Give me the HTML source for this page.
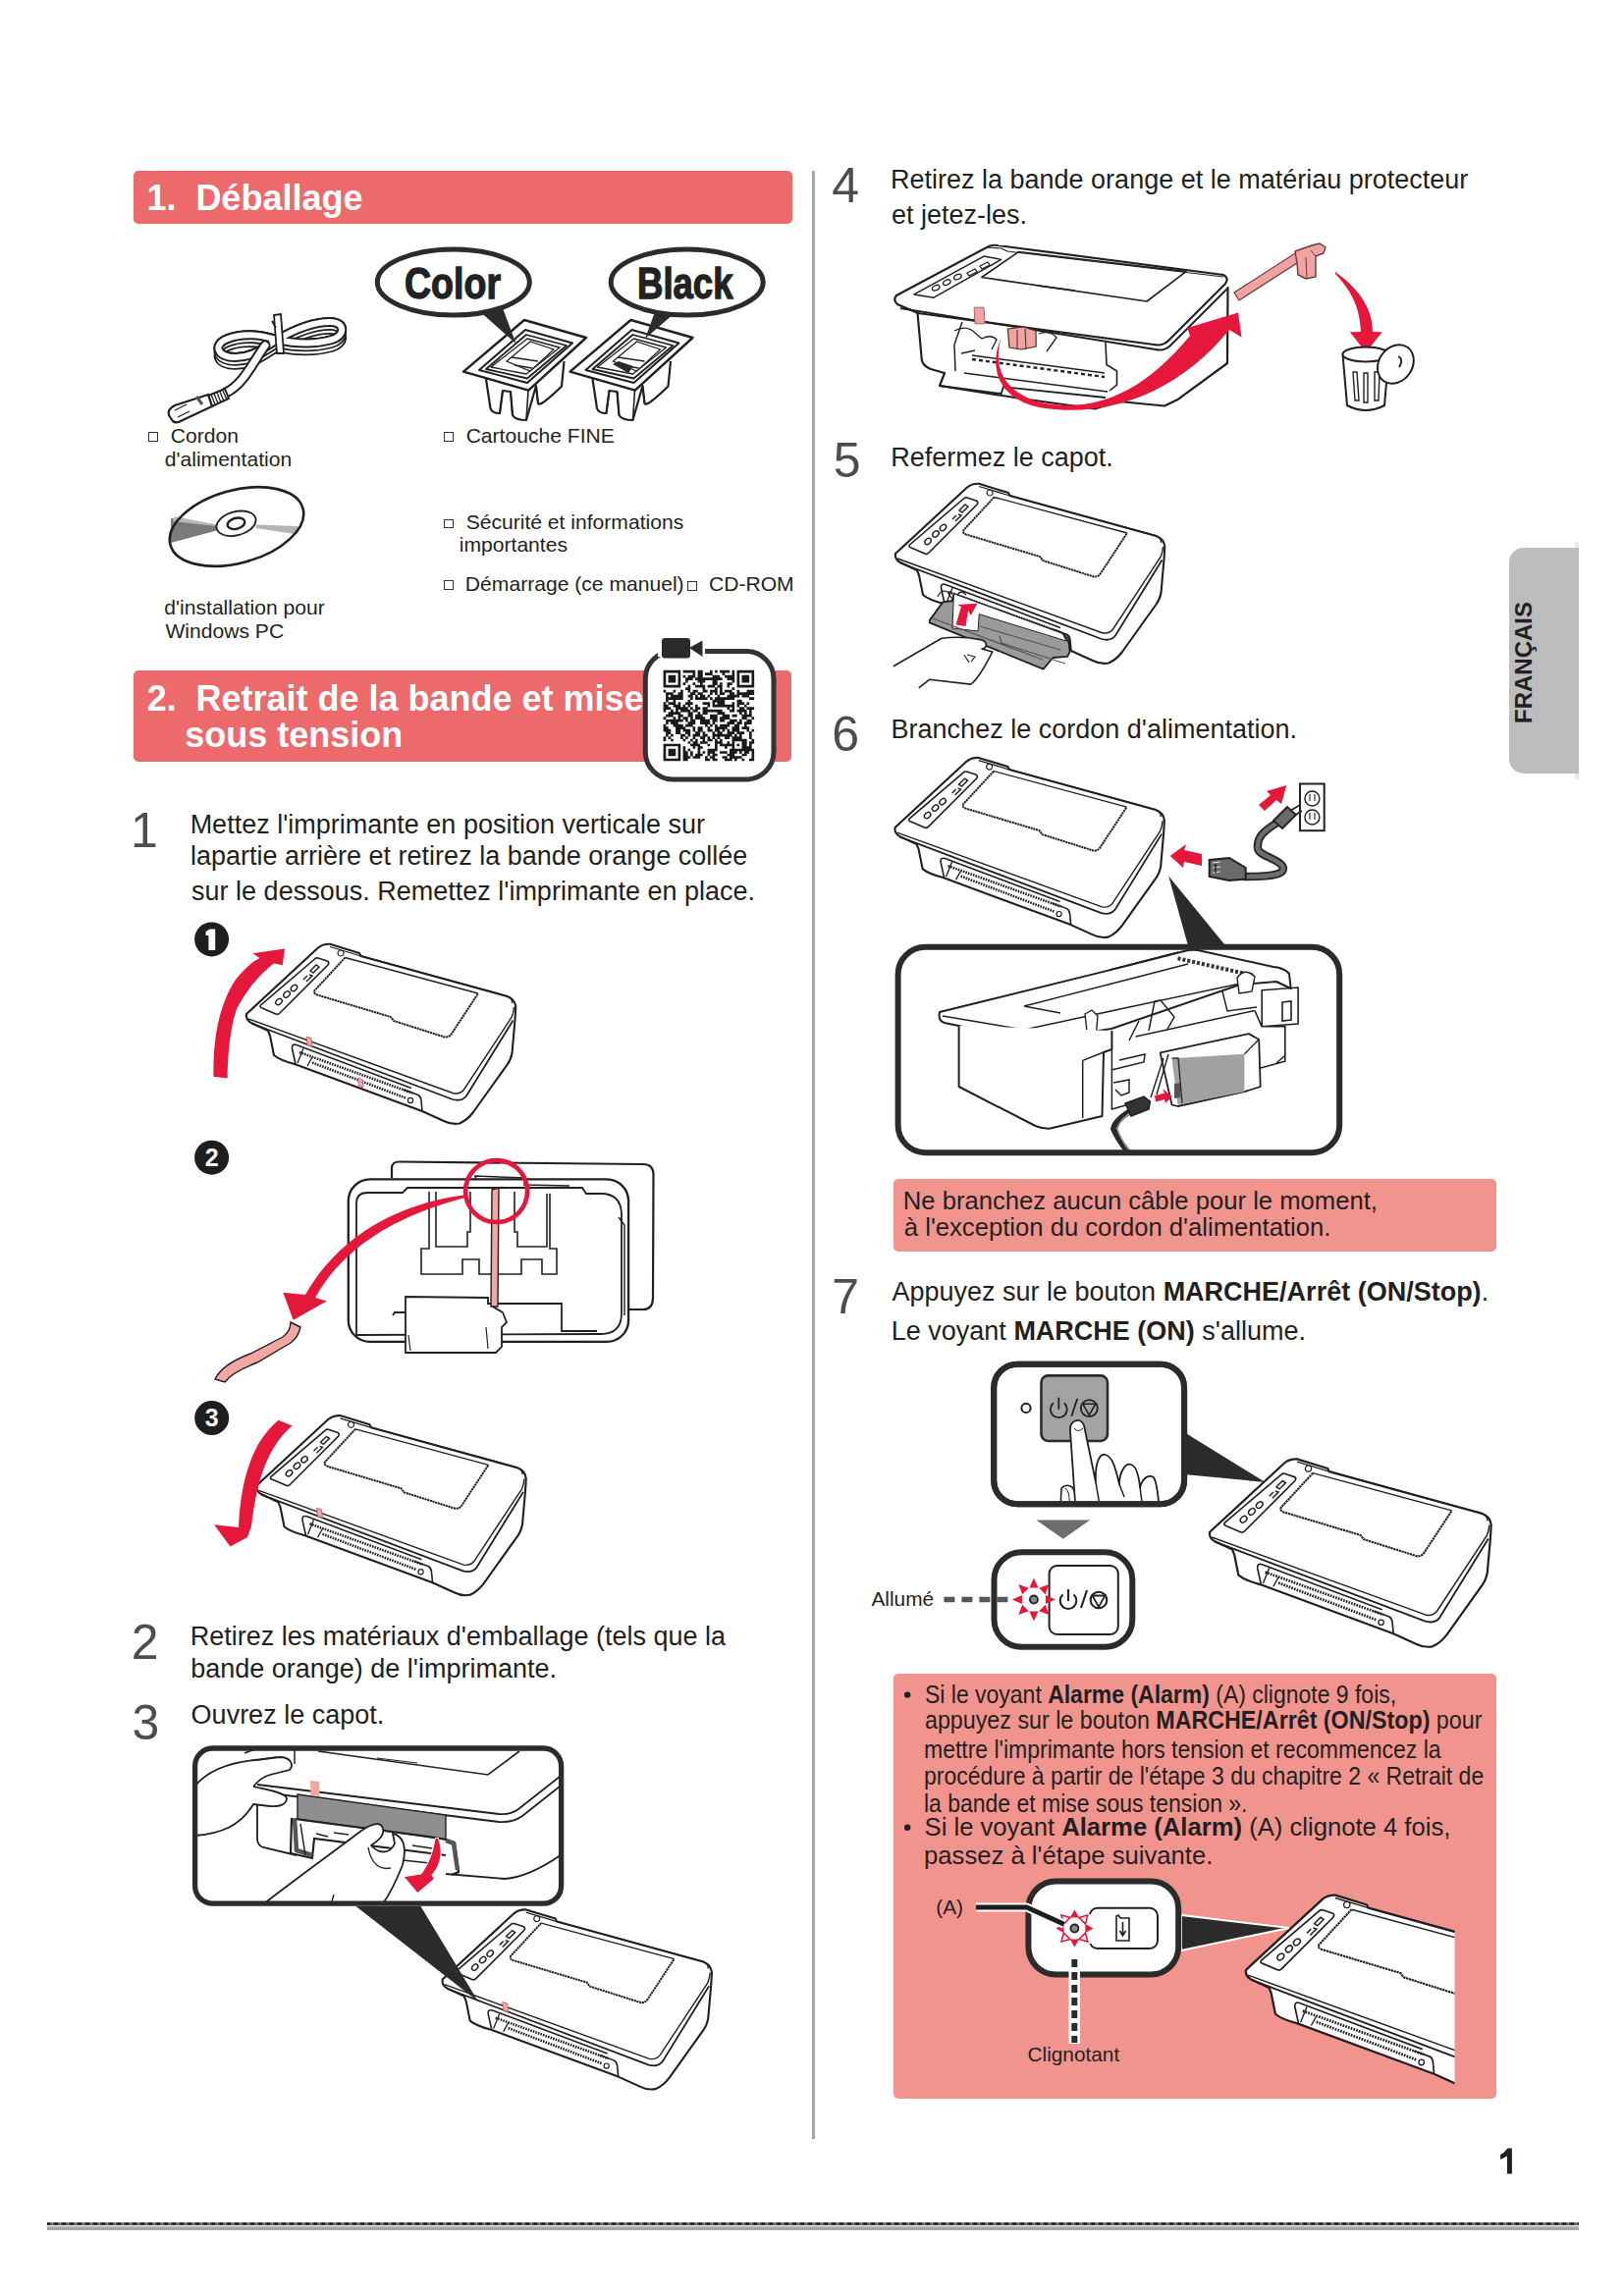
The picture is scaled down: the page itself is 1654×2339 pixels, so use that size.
<!DOCTYPE html>
<html><head><meta charset="utf-8"><style>
html,body{margin:0;padding:0;background:#fff;}
body{width:1654px;height:2339px;position:relative;overflow:hidden;font-family:"Liberation Sans",sans-serif;color:#231f20;}
.t{position:absolute;white-space:pre;}
svg{position:absolute;left:0;top:0;}
</style></head><body>
<div style="position:absolute;left:135.5px;top:174px;width:671.5px;height:54px;background:#ec696c;border-radius:5px;"></div>
<div style="position:absolute;left:135.5px;top:683px;width:670.5px;height:92.5px;background:#ec696c;border-radius:5px;"></div>
<div style="position:absolute;left:827px;top:174px;width:3px;height:2005px;background:#a6a6a6;border-radius:0px;"></div>
<div style="position:absolute;left:910px;top:1201px;width:613.5px;height:73.5px;background:#f2948e;border-radius:5px;"></div>
<div style="position:absolute;left:910px;top:1704.5px;width:613.5px;height:433.5px;background:#f2948e;border-radius:5px;"></div>
<div style="position:absolute;left:1604px;top:552px;width:4px;height:242px;background:#e9e9ea;border-radius:0px;"></div>
<div style="position:absolute;left:1537px;top:558px;width:70.6px;height:230px;background:#bdbcbe;border-radius:15px 0 0 15px;"></div>
<div style="position:absolute;left:48px;top:2264px;width:1560px;height:8px;background:#a9a9a9;border-radius:0px;"></div>
<svg width="1654" height="2339" viewBox="0 0 1654 2339">
<circle cx="924.2" cy="1726.6" r="3.2" fill="#231f20"/>
<circle cx="924.2" cy="1861.8" r="3.2" fill="#231f20"/>
<path d="M1535.1,2188.5 L1539.9,2188.5 L1539.9,2214.6 L1535,2214.6 L1535,2196.5 L1528.2,2199.9 L1528,2195.2 Q1532,2193 1535.1,2189 Z" fill="#231f20"/>
<circle cx="215.6" cy="956.9" r="17.5" fill="#1e1e1e"/>
<path d="M209.6,948.9 L213.6,946.4 L219.2,946.4 L219.2,967.9 L212.4,967.9 L212.4,952.9 L209.6,952.9 Z" fill="#fff"/>
<path d="M251,1033 L324,965.5 Q329,961.5 336,961.8 L366,971 L367.5,974 L516.5,1015 Q524.5,1018 525.3,1026 L524.5,1039 L521.5,1073 Q520,1080 517,1084 L482,1133 Q476,1141 468,1144.5 Q460,1146 452,1142 L430,1132 L300,1084 Q285,1080 279,1075 L275,1055 L273,1050 L256,1042 Q250,1039 251,1033 Z" fill="#fff" stroke="#231f20" stroke-width="2.1" stroke-linejoin="round"/><path d="M253,1038 L461,1113.5 Q468,1115.5 472.5,1110 L521,1036.5 Q523,1032 523.5,1026" fill="none" stroke="#231f20" stroke-width="1.4"/><path d="M256,1042.5 L461,1120 Q470,1122.5 475,1116.5 L522.5,1039.5" fill="none" stroke="#231f20" stroke-width="1.8"/><path d="M336,964.5 L366,973.5 L516,1014.5 Q522,1017 521.5,1022" fill="none" stroke="#231f20" stroke-width="1.3"/><path d="M351.5,975.5 L487,1012" fill="none" stroke="#231f20" stroke-width="1.3"/><path d="M267,1027 L281,1033 Q283,1034 285,1032 L334,983 Q336,980 333,979 L324,976 Q322,975.5 320.5,977 L265.5,1024 Q264,1026 267,1027 Z" fill="none" stroke="#231f20" stroke-width="1.6"/><ellipse cx="284" cy="1020.5" rx="3.6" ry="2.6" transform="rotate(-42 284 1020.5)" fill="none" stroke="#231f20" stroke-width="1.4"/><ellipse cx="292" cy="1013" rx="3.6" ry="2.6" transform="rotate(-42 292 1013)" fill="none" stroke="#231f20" stroke-width="1.4"/><ellipse cx="299.5" cy="1006.5" rx="3.6" ry="2.6" transform="rotate(-42 299.5 1006.5)" fill="none" stroke="#231f20" stroke-width="1.4"/><path d="M309,998 l4,-4 M312,1000 l6,-6 l-3,-1 M316,989 l6,-6 l3,2 l-6,6 z" fill="none" stroke="#231f20" stroke-width="1.4"/><path d="M351.5,975.5 L320.5,1009 Q319,1012 323,1013.5 L398,1036 L401,1040 L453,1056.5 Q457.5,1057 460,1053 L487,1012" fill="none" stroke="#231f20" stroke-width="2" stroke-dasharray="2.2 0.6"/><path d="M301,1084 L297.5,1068 Q297,1063 302,1064.5 L419,1108.5" fill="none" stroke="#231f20" stroke-width="1.6"/><path d="M305,1072 L420,1113.5" fill="none" stroke="#231f20" stroke-width="2.6" stroke-dasharray="1.6 1.1"/><path d="M318,1082.5 L413,1118.5" fill="none" stroke="#231f20" stroke-width="2.6" stroke-dasharray="1.6 1.1"/><path d="M411,1110 L426,1115.5 Q428.5,1117 429,1121 L430,1132" fill="none" stroke="#231f20" stroke-width="1.6"/><path d="M303,1083 L309,1068 M313,1086 L318,1077" fill="none" stroke="#231f20" stroke-width="1.3"/><circle cx="418" cy="1121" r="2.6" fill="none" stroke="#231f20" stroke-width="1.2"/><path d="M347,968 a3,3 0 1,0 0.1,0" fill="none" stroke="#231f20" stroke-width="1.2"/><path d="M312,1056 L317,1057.5 L318,1066 L313,1064.5 Z" fill="#f3a5a9" stroke="#b56" stroke-width="0.8"/><path d="M364.5,1098 L369,1099.5 L370,1108 L365.5,1106.5 Z" fill="#f3a5a9" stroke="#b56" stroke-width="0.8"/>
<path d="M217.4,1096.8 C217,1060 222,1025 240,998 C248,988 256,980 264.5,976 L257.3,971.2 L290,966.4 L287.7,983.2 L278.9,981.6 C265,992 250,1010 241,1028 C235,1045 232,1070 231.6,1098.5 Z" fill="#e5173a"/>
<circle cx="215.6" cy="1179.2" r="17.5" fill="#1e1e1e"/>
<text x="215.6" y="1187.7" text-anchor="middle" font-family="Liberation Sans" font-weight="bold" font-size="25" fill="#fff">2</text>
<circle cx="215.7" cy="1444.5" r="17.5" fill="#1e1e1e"/>
<text x="215.7" y="1453.0" text-anchor="middle" font-family="Liberation Sans" font-weight="bold" font-size="25" fill="#fff">3</text>
<g transform="translate(10.5,480.3)"><path d="M251,1033 L324,965.5 Q329,961.5 336,961.8 L366,971 L367.5,974 L516.5,1015 Q524.5,1018 525.3,1026 L524.5,1039 L521.5,1073 Q520,1080 517,1084 L482,1133 Q476,1141 468,1144.5 Q460,1146 452,1142 L430,1132 L300,1084 Q285,1080 279,1075 L275,1055 L273,1050 L256,1042 Q250,1039 251,1033 Z" fill="#fff" stroke="#231f20" stroke-width="2.1" stroke-linejoin="round"/><path d="M253,1038 L461,1113.5 Q468,1115.5 472.5,1110 L521,1036.5 Q523,1032 523.5,1026" fill="none" stroke="#231f20" stroke-width="1.4"/><path d="M256,1042.5 L461,1120 Q470,1122.5 475,1116.5 L522.5,1039.5" fill="none" stroke="#231f20" stroke-width="1.8"/><path d="M336,964.5 L366,973.5 L516,1014.5 Q522,1017 521.5,1022" fill="none" stroke="#231f20" stroke-width="1.3"/><path d="M351.5,975.5 L487,1012" fill="none" stroke="#231f20" stroke-width="1.3"/><path d="M267,1027 L281,1033 Q283,1034 285,1032 L334,983 Q336,980 333,979 L324,976 Q322,975.5 320.5,977 L265.5,1024 Q264,1026 267,1027 Z" fill="none" stroke="#231f20" stroke-width="1.6"/><ellipse cx="284" cy="1020.5" rx="3.6" ry="2.6" transform="rotate(-42 284 1020.5)" fill="none" stroke="#231f20" stroke-width="1.4"/><ellipse cx="292" cy="1013" rx="3.6" ry="2.6" transform="rotate(-42 292 1013)" fill="none" stroke="#231f20" stroke-width="1.4"/><ellipse cx="299.5" cy="1006.5" rx="3.6" ry="2.6" transform="rotate(-42 299.5 1006.5)" fill="none" stroke="#231f20" stroke-width="1.4"/><path d="M309,998 l4,-4 M312,1000 l6,-6 l-3,-1 M316,989 l6,-6 l3,2 l-6,6 z" fill="none" stroke="#231f20" stroke-width="1.4"/><path d="M351.5,975.5 L320.5,1009 Q319,1012 323,1013.5 L398,1036 L401,1040 L453,1056.5 Q457.5,1057 460,1053 L487,1012" fill="none" stroke="#231f20" stroke-width="2" stroke-dasharray="2.2 0.6"/><path d="M301,1084 L297.5,1068 Q297,1063 302,1064.5 L419,1108.5" fill="none" stroke="#231f20" stroke-width="1.6"/><path d="M305,1072 L420,1113.5" fill="none" stroke="#231f20" stroke-width="2.6" stroke-dasharray="1.6 1.1"/><path d="M318,1082.5 L413,1118.5" fill="none" stroke="#231f20" stroke-width="2.6" stroke-dasharray="1.6 1.1"/><path d="M411,1110 L426,1115.5 Q428.5,1117 429,1121 L430,1132" fill="none" stroke="#231f20" stroke-width="1.6"/><path d="M303,1083 L309,1068 M313,1086 L318,1077" fill="none" stroke="#231f20" stroke-width="1.3"/><circle cx="418" cy="1121" r="2.6" fill="none" stroke="#231f20" stroke-width="1.2"/><path d="M347,968 a3,3 0 1,0 0.1,0" fill="none" stroke="#231f20" stroke-width="1.2"/><path d="M312,1056 L317,1057.5 L318,1066 L313,1064.5 Z" fill="#f3a5a9" stroke="#b56" stroke-width="0.8"/></g>
<path d="M283.6,1446.8 L297.6,1452.6 C277,1470 262,1500 256,1555 L252,1566.1 L234.5,1575.5 L218.1,1553.3 L243,1556 C245,1505 258,1468 283.6,1446.8 Z" fill="#e5173a"/>
<path d="M399,1200 L399,1190 Q399,1183.5 407,1183.5 L655,1186 Q665,1186 665.5,1196 L665,1322 Q665,1334 655,1334 L640,1334" fill="#fff" stroke="#231f20" stroke-width="2.2"/>
<rect x="354.8" y="1201.4" width="285.3" height="165.5" rx="22" fill="#fff" stroke="#231f20" stroke-width="2.3"/>
<path d="M363,1360 L363,1226 Q363,1215 374,1215 L410,1215 L415,1210 L593,1210 L597,1216 L612,1216 Q632,1216 633,1236 L633,1338 Q633,1359 612,1359 Z" fill="none" stroke="#231f20" stroke-width="1.8"/>
<path d="M630,1240 L636,1248 L636,1340" fill="none" stroke="#231f20" stroke-width="1.4"/>
<path d="M437,1214 L437,1272 L429,1272 L429,1298 L471,1298 L471,1283 L488,1283 L488,1298 L531,1298 L531,1283 L552,1283 L552,1298 L567,1298 L567,1272 L560,1272 L560,1216" fill="none" stroke="#231f20" stroke-width="1.6"/>
<path d="M444,1214 L444,1270 L476,1270 L476,1255 L479,1255 L479,1214 M524,1214 L524,1255 L527,1255 L527,1270 L557,1270 L557,1216" fill="none" stroke="#231f20" stroke-width="1.6"/>
<path d="M485,1202 L484,1198 L535,1200 L534,1207 L580,1208" fill="none" stroke="#231f20" stroke-width="1.6"/>
<path d="M413,1336 L413,1321 L497,1322 L497,1328 L572,1328 L572,1356 L608,1356 M400,1340 L402,1337 L413,1337 L413,1378 L505,1378 L511,1372 L511,1352 L516,1347 L512,1337 L500,1330" fill="#fff" stroke="#231f20" stroke-width="1.8"/>
<path d="M416,1360 L418,1376 M495,1352 L497,1374" fill="none" stroke="#231f20" stroke-width="1.2"/>
<path d="M501,1212 L508,1210 L507,1331 L500,1331 Z" fill="#f2a7a2" stroke="#231f20" stroke-width="1.4"/>
<path d="M500,1212 L508,1210 L514,1208 L507,1211 Z" fill="#333"/>
<circle cx="505.6" cy="1213.5" r="31.5" fill="none" stroke="#e5173a" stroke-width="4.6"/>
<path d="M473,1217.5 C420,1224 350,1250 311,1319 L288.3,1316.7 L298.7,1344.7 L332.7,1325.5 L321,1322 C352,1266 412,1236 474,1220 Z" fill="#e5173a"/>
<path d="M296,1347 L306,1352 Q304,1362 296,1368 L262,1388 Q236,1398 229,1408 L219,1405 Q226,1390 255,1379 L288,1362 Q296,1356 296,1347 Z" fill="#f2a7a2" stroke="#231f20" stroke-width="1.4"/>
<defs><clipPath id="c3"><rect x="199" y="1781" width="372" height="158" rx="17"/></clipPath></defs>
<g clip-path="url(#c3)">
<rect x="190" y="1770" width="400" height="180" fill="#fff"/>
<path d="M324,1784 L497,1808 L529,1784" fill="none" stroke="#231f20" stroke-width="1.6"/>
<path d="M384,1791 L425,1796" fill="none" stroke="#231f20" stroke-width="1.2"/>
<path d="M262,1818 L508,1848 Q520,1849 528,1843 L580,1802" fill="none" stroke="#231f20" stroke-width="1.8"/>
<path d="M268,1826 L508,1856 Q522,1857 532,1850 L580,1812" fill="none" stroke="#231f20" stroke-width="1.8"/>
<path d="M262,1826 L262,1873 Q262,1880 268,1882 L302,1890" fill="none" stroke="#231f20" stroke-width="1.8"/>
<path d="M303,1828 L454,1849 L454,1874 L303,1853 Z" fill="#8f8f91" stroke="#231f20" stroke-width="1.4"/>
<path d="M297,1852 L296,1888 L318,1893 L320,1873 L454,1890 M300,1853 L330,1857 L430,1870 L455,1874 L463,1877 L467,1907 L460,1910" fill="none" stroke="#231f20" stroke-width="2.2"/>
<path d="M300,1852 L302,1885 L318,1890 M454,1875 L462,1878 L466,1905" fill="none" stroke="#555" stroke-width="4.5"/>
<path d="M306,1858 L311,1890 M322,1868 L334,1871 M340,1867 L355,1869 M420,1880 L440,1883 M410,1895 L438,1898" fill="none" stroke="#231f20" stroke-width="1.5"/>
<path d="M454,1909 L514,1914 Q540,1912 575,1887" fill="none" stroke="#231f20" stroke-width="1.8"/>
<path d="M316,1814 L325,1815 L325.5,1830 L316.5,1829 Z" fill="#f2a6a0"/>
<path d="M199,1819 C215,1800 240,1795 260,1793 L285,1790 C295,1790 300,1797 295,1803 L275,1808 C268,1810 262,1815 258,1820" fill="#fff" stroke="#231f20" stroke-width="1.8"/>
<path d="M258,1820 C265,1822 290,1825 292,1832 C292,1838 285,1841 275,1840 L258,1838 C245,1860 225,1868 199,1870" fill="#fff" stroke="#231f20" stroke-width="1.8"/>
<path d="M249,1786 L265,1780 L300,1782 L300,1797 M262,1793 L282,1790" fill="none" stroke="#231f20" stroke-width="1.5"/>
<path d="M268,1940 C300,1915 335,1890 368,1865 C378,1858 388,1855 390,1863 C392,1870 385,1875 378,1880 C385,1888 397,1890 402,1878 L400,1868 C410,1870 415,1880 410,1900 C402,1920 395,1935 385,1945" fill="#fff" stroke="#231f20" stroke-width="1.8"/>
<path d="M375,1882 C378,1900 388,1905 398,1903 M340,1930 L335,1948" fill="none" stroke="#231f20" stroke-width="1.4"/>
<path d="M446,1872 C452,1885 449,1900 440,1910 L442.2,1914.1 L425.3,1928.5 L411,1911.7 L429,1909 C437,1898 441,1886 443,1873 Z" fill="#e5173a" stroke="#fff" stroke-width="1"/>
</g>
<rect x="198.6" y="1781" width="373" height="158.2" rx="18" fill="none" stroke="#2b2b2b" stroke-width="5.3"/>
<g transform="translate(199.7,983.6)"><path d="M251,1033 L324,965.5 Q329,961.5 336,961.8 L366,971 L367.5,974 L516.5,1015 Q524.5,1018 525.3,1026 L524.5,1039 L521.5,1073 Q520,1080 517,1084 L482,1133 Q476,1141 468,1144.5 Q460,1146 452,1142 L430,1132 L300,1084 Q285,1080 279,1075 L275,1055 L273,1050 L256,1042 Q250,1039 251,1033 Z" fill="#fff" stroke="#231f20" stroke-width="2.1" stroke-linejoin="round"/><path d="M253,1038 L461,1113.5 Q468,1115.5 472.5,1110 L521,1036.5 Q523,1032 523.5,1026" fill="none" stroke="#231f20" stroke-width="1.4"/><path d="M256,1042.5 L461,1120 Q470,1122.5 475,1116.5 L522.5,1039.5" fill="none" stroke="#231f20" stroke-width="1.8"/><path d="M336,964.5 L366,973.5 L516,1014.5 Q522,1017 521.5,1022" fill="none" stroke="#231f20" stroke-width="1.3"/><path d="M351.5,975.5 L487,1012" fill="none" stroke="#231f20" stroke-width="1.3"/><path d="M267,1027 L281,1033 Q283,1034 285,1032 L334,983 Q336,980 333,979 L324,976 Q322,975.5 320.5,977 L265.5,1024 Q264,1026 267,1027 Z" fill="none" stroke="#231f20" stroke-width="1.6"/><ellipse cx="284" cy="1020.5" rx="3.6" ry="2.6" transform="rotate(-42 284 1020.5)" fill="none" stroke="#231f20" stroke-width="1.4"/><ellipse cx="292" cy="1013" rx="3.6" ry="2.6" transform="rotate(-42 292 1013)" fill="none" stroke="#231f20" stroke-width="1.4"/><ellipse cx="299.5" cy="1006.5" rx="3.6" ry="2.6" transform="rotate(-42 299.5 1006.5)" fill="none" stroke="#231f20" stroke-width="1.4"/><path d="M309,998 l4,-4 M312,1000 l6,-6 l-3,-1 M316,989 l6,-6 l3,2 l-6,6 z" fill="none" stroke="#231f20" stroke-width="1.4"/><path d="M351.5,975.5 L320.5,1009 Q319,1012 323,1013.5 L398,1036 L401,1040 L453,1056.5 Q457.5,1057 460,1053 L487,1012" fill="none" stroke="#231f20" stroke-width="2" stroke-dasharray="2.2 0.6"/><path d="M301,1084 L297.5,1068 Q297,1063 302,1064.5 L419,1108.5" fill="none" stroke="#231f20" stroke-width="1.6"/><path d="M305,1072 L420,1113.5" fill="none" stroke="#231f20" stroke-width="2.6" stroke-dasharray="1.6 1.1"/><path d="M318,1082.5 L413,1118.5" fill="none" stroke="#231f20" stroke-width="2.6" stroke-dasharray="1.6 1.1"/><path d="M411,1110 L426,1115.5 Q428.5,1117 429,1121 L430,1132" fill="none" stroke="#231f20" stroke-width="1.6"/><path d="M303,1083 L309,1068 M313,1086 L318,1077" fill="none" stroke="#231f20" stroke-width="1.3"/><circle cx="418" cy="1121" r="2.6" fill="none" stroke="#231f20" stroke-width="1.2"/><path d="M347,968 a3,3 0 1,0 0.1,0" fill="none" stroke="#231f20" stroke-width="1.2"/><path d="M312,1056 L317,1057.5 L318,1066 L313,1064.5 Z" fill="#f3a5a9" stroke="#b56" stroke-width="0.8"/></g>
<path d="M362.5,1942 L428.5,1942 L487,2039 Z" fill="#2b2b2b"/>
<path d="M934.4,318 L938.8,366.5 Q940,373 948,376 L962,380 L957,393 L1040,406 L1115,416.5 L1140,409 L1186,413.5 L1200,406.7 L1250,370 L1250.5,292" fill="#fff" stroke="#231f20" stroke-width="2.2" stroke-linejoin="round"/>
<path d="M957,393 L1019.7,401 L1021.9,394.2 L1126,405" fill="none" stroke="#231f20" stroke-width="1.8"/>
<path d="M1126,349 L1127,371.5 L1137.5,378 L1137.5,392 L1130,398" fill="none" stroke="#231f20" stroke-width="1.6"/>
<path d="M913,301 Q909,306 914,310 L935,319 L1175,351 Q1184,353 1190,347 L1248,289 Q1252,283 1246,280 L1016,250 Q1010,249 1005,252 Z" fill="#fff" stroke="#231f20" stroke-width="2.2" stroke-linejoin="round"/>
<path d="M917,314 L1177,356 Q1186,358 1192,352 L1250,294" fill="none" stroke="#231f20" stroke-width="1.8"/>
<path d="M1005,252 L1020,253 L1026,256 L1246,282" fill="none" stroke="#231f20" stroke-width="1.2"/>
<path d="M931,299.9 L951,303.2 L1019.7,264.4 L1002,261.1 Z" fill="none" stroke="#231f20" stroke-width="1.5" stroke-linejoin="round"/>
<ellipse cx="953.2" cy="293.2" rx="4" ry="2.4" transform="rotate(-25 953.2 293.2)" fill="none" stroke="#231f20" stroke-width="1.3"/>
<ellipse cx="964.3" cy="287.7" rx="4" ry="2.4" transform="rotate(-25 964.3 287.7)" fill="none" stroke="#231f20" stroke-width="1.3"/>
<ellipse cx="975.4" cy="282.1" rx="4" ry="2.4" transform="rotate(-25 975.4 282.1)" fill="none" stroke="#231f20" stroke-width="1.3"/>
<path d="M985,278 l8,-4 l2,3 l-8,4 z M998,271 l8,-4 l2,3 l-8,4 z" fill="none" stroke="#231f20" stroke-width="1.3"/>
<path d="M999.8,282.5 L1037.4,256.6 L1208,276.6 L1168,307 Z" fill="none" stroke="#231f20" stroke-width="1.6" stroke-linejoin="round"/>
<path d="M1057,291 L1095,296" stroke="#231f20" stroke-width="1.3"/>
<path d="M980,328 L972,351 L973,378 M979,360 L993,357 M990,362 L1125,380 M982,380 L1128,399" fill="none" stroke="#231f20" stroke-width="1.5"/>
<path d="M990,366 L1125,384" fill="none" stroke="#231f20" stroke-width="2.4" stroke-dasharray="4 3"/>
<path d="M972,337 Q985,330 994,340 L1000,345 Q1010,340 1015,346 L1010,356 M1058,340 Q1070,336 1076,344 L1066,358" fill="none" stroke="#231f20" stroke-width="1.3"/>
<path d="M1026.4,335 L1042,333 L1055,337 L1055.2,353 L1040,356 L1028,354 Z" fill="#f0a3a0" stroke="#4a2a2a" stroke-width="1.2"/>
<path d="M1036,336 L1036,355 M1044,335 L1045,356" stroke="#4a2a2a" stroke-width="1"/>
<path d="M992,313.2 L1002,313.2 L1003.1,329.8 L993,329.8 Z" fill="#f0a3a0" stroke="#8a4a4a" stroke-width="0.8"/>
<path d="M1019.7,344 C1012,370 1018,398 1060,410 C1110,420 1160,405 1212,342 L1209.3,334 L1261,318.4 L1264.5,343.4 L1252,336 C1200,400 1130,425 1065,416 C1020,410 1005,378 1019.7,344 Z" fill="#e5173a"/>
<path d="M1257,298 L1319,258 L1324,266 L1262,306 Z" fill="#f0a3a0" stroke="#6a3a3a" stroke-width="1.2"/>
<path d="M1319,256 L1336,250 L1344,248 L1350,252 L1348,258 L1340,261 L1340,282 L1330,284 L1322,280 L1321,268 Z" fill="#f0a3a0" stroke="#6a3a3a" stroke-width="1.4"/>
<path d="M1330,262 L1331,283 M1335,255 L1340,261" stroke="#6a3a3a" stroke-width="1"/>
<path d="M1360,277 C1385,295 1398,315 1398,338 L1407.6,338.3 L1391.2,359 L1374.8,338.3 L1386,338 C1385,315 1378,298 1360,279 Z" fill="#e5173a"/>
<path d="M1367.5,361 L1372,413 Q1391,423 1410,413 L1414.5,361" fill="#fff" stroke="#231f20" stroke-width="2"/>
<ellipse cx="1391" cy="361" rx="23.5" ry="7.5" fill="#fff" stroke="#231f20" stroke-width="2"/>
<path d="M1378,379 L1380,408 L1384,408 L1382,379 Z M1389,380 L1389,410 L1393,410 L1393,380 Z M1400,379 L1400,408 L1404,408 L1405,379 Z" fill="none" stroke="#231f20" stroke-width="1.4"/>
<ellipse cx="1421.4" cy="371" rx="17" ry="21" transform="rotate(35 1421.4 371)" fill="#fff" stroke="#231f20" stroke-width="2"/>
<path d="M1424,363 Q1430,366 1425,374" fill="none" stroke="#231f20" stroke-width="1.8"/>
<g transform="translate(661,-469)"><path d="M251,1033 L324,965.5 Q329,961.5 336,961.8 L366,971 L367.5,974 L516.5,1015 Q524.5,1018 525.3,1026 L524.5,1039 L521.5,1073 Q520,1080 517,1084 L482,1133 Q476,1141 468,1144.5 Q460,1146 452,1142 L430,1132 L300,1084 Q285,1080 279,1075 L275,1055 L273,1050 L256,1042 Q250,1039 251,1033 Z" fill="#fff" stroke="#231f20" stroke-width="2.1" stroke-linejoin="round"/><path d="M253,1038 L461,1113.5 Q468,1115.5 472.5,1110 L521,1036.5 Q523,1032 523.5,1026" fill="none" stroke="#231f20" stroke-width="1.4"/><path d="M256,1042.5 L461,1120 Q470,1122.5 475,1116.5 L522.5,1039.5" fill="none" stroke="#231f20" stroke-width="1.8"/><path d="M336,964.5 L366,973.5 L516,1014.5 Q522,1017 521.5,1022" fill="none" stroke="#231f20" stroke-width="1.3"/><path d="M351.5,975.5 L487,1012" fill="none" stroke="#231f20" stroke-width="1.3"/><path d="M267,1027 L281,1033 Q283,1034 285,1032 L334,983 Q336,980 333,979 L324,976 Q322,975.5 320.5,977 L265.5,1024 Q264,1026 267,1027 Z" fill="none" stroke="#231f20" stroke-width="1.6"/><ellipse cx="284" cy="1020.5" rx="3.6" ry="2.6" transform="rotate(-42 284 1020.5)" fill="none" stroke="#231f20" stroke-width="1.4"/><ellipse cx="292" cy="1013" rx="3.6" ry="2.6" transform="rotate(-42 292 1013)" fill="none" stroke="#231f20" stroke-width="1.4"/><ellipse cx="299.5" cy="1006.5" rx="3.6" ry="2.6" transform="rotate(-42 299.5 1006.5)" fill="none" stroke="#231f20" stroke-width="1.4"/><path d="M309,998 l4,-4 M312,1000 l6,-6 l-3,-1 M316,989 l6,-6 l3,2 l-6,6 z" fill="none" stroke="#231f20" stroke-width="1.4"/><path d="M351.5,975.5 L320.5,1009 Q319,1012 323,1013.5 L398,1036 L401,1040 L453,1056.5 Q457.5,1057 460,1053 L487,1012" fill="none" stroke="#231f20" stroke-width="2" stroke-dasharray="2.2 0.6"/><path d="M301,1084 L297.5,1068 Q297,1063 302,1064.5 L419,1108.5" fill="none" stroke="#231f20" stroke-width="1.6"/><path d="M305,1072 L420,1113.5" fill="none" stroke="#231f20" stroke-width="2.6" stroke-dasharray="1.6 1.1"/><path d="M318,1082.5 L413,1118.5" fill="none" stroke="#231f20" stroke-width="2.6" stroke-dasharray="1.6 1.1"/><path d="M411,1110 L426,1115.5 Q428.5,1117 429,1121 L430,1132" fill="none" stroke="#231f20" stroke-width="1.6"/><path d="M303,1083 L309,1068 M313,1086 L318,1077" fill="none" stroke="#231f20" stroke-width="1.3"/><circle cx="418" cy="1121" r="2.6" fill="none" stroke="#231f20" stroke-width="1.2"/><path d="M347,968 a3,3 0 1,0 0.1,0" fill="none" stroke="#231f20" stroke-width="1.2"/></g>
<path d="M955,608 Q958,600 965,603 L971,612 M975,606 Q979,600 984,606" fill="none" stroke="#231f20" stroke-width="1.3"/>
<path d="M946.8,631.9 L960.3,613.4 L970,612 L971.4,604.8 L1082.3,645.4 L1088.4,654 L1089.7,663.9 L1087.2,668.8 L1072.4,670 L1062.6,681.7 L946.8,634.3 Z" fill="#9a9a9c" stroke="#231f20" stroke-width="1.8" stroke-linejoin="round"/>
<path d="M971.4,604.8 L1082.3,645.4 L1086,653 L997.3,625.7 L996,643 L970,640 Z" fill="#fff" stroke="#231f20" stroke-width="1"/>
<path d="M950,630 L1062,672 M998,638 L1080,662 M1018,648 L1020,655 L1085,676" fill="none" stroke="#555" stroke-width="1.2"/>
<path d="M1082,645 Q1090,648 1090,660" fill="none" stroke="#231f20" stroke-width="1.4"/>
<path d="M973.5,636.5 L979,618 L975,616 L995.4,614.8 L988.7,627 L986,622 L983.5,638 Z" fill="#e5173a"/>
<path d="M909.9,678.7 L959.1,650.3 C975,648 990,650 998.5,651.6 C1006,653 1006,660 1000,661 L1010.8,663.9 C1005,675 998,690 988.7,697.1 L946.8,692.2 L935.7,700.8" fill="#fff" stroke="#231f20" stroke-width="1.6" stroke-linejoin="round"/>
<path d="M985,667 l8,2 l-4,5 M987,675 l-5,-8" fill="none" stroke="#231f20" stroke-width="1.2"/>
<g transform="translate(660.6,-189.9)"><path d="M251,1033 L324,965.5 Q329,961.5 336,961.8 L366,971 L367.5,974 L516.5,1015 Q524.5,1018 525.3,1026 L524.5,1039 L521.5,1073 Q520,1080 517,1084 L482,1133 Q476,1141 468,1144.5 Q460,1146 452,1142 L430,1132 L300,1084 Q285,1080 279,1075 L275,1055 L273,1050 L256,1042 Q250,1039 251,1033 Z" fill="#fff" stroke="#231f20" stroke-width="2.1" stroke-linejoin="round"/><path d="M253,1038 L461,1113.5 Q468,1115.5 472.5,1110 L521,1036.5 Q523,1032 523.5,1026" fill="none" stroke="#231f20" stroke-width="1.4"/><path d="M256,1042.5 L461,1120 Q470,1122.5 475,1116.5 L522.5,1039.5" fill="none" stroke="#231f20" stroke-width="1.8"/><path d="M336,964.5 L366,973.5 L516,1014.5 Q522,1017 521.5,1022" fill="none" stroke="#231f20" stroke-width="1.3"/><path d="M351.5,975.5 L487,1012" fill="none" stroke="#231f20" stroke-width="1.3"/><path d="M267,1027 L281,1033 Q283,1034 285,1032 L334,983 Q336,980 333,979 L324,976 Q322,975.5 320.5,977 L265.5,1024 Q264,1026 267,1027 Z" fill="none" stroke="#231f20" stroke-width="1.6"/><ellipse cx="284" cy="1020.5" rx="3.6" ry="2.6" transform="rotate(-42 284 1020.5)" fill="none" stroke="#231f20" stroke-width="1.4"/><ellipse cx="292" cy="1013" rx="3.6" ry="2.6" transform="rotate(-42 292 1013)" fill="none" stroke="#231f20" stroke-width="1.4"/><ellipse cx="299.5" cy="1006.5" rx="3.6" ry="2.6" transform="rotate(-42 299.5 1006.5)" fill="none" stroke="#231f20" stroke-width="1.4"/><path d="M309,998 l4,-4 M312,1000 l6,-6 l-3,-1 M316,989 l6,-6 l3,2 l-6,6 z" fill="none" stroke="#231f20" stroke-width="1.4"/><path d="M351.5,975.5 L320.5,1009 Q319,1012 323,1013.5 L398,1036 L401,1040 L453,1056.5 Q457.5,1057 460,1053 L487,1012" fill="none" stroke="#231f20" stroke-width="2" stroke-dasharray="2.2 0.6"/><path d="M301,1084 L297.5,1068 Q297,1063 302,1064.5 L419,1108.5" fill="none" stroke="#231f20" stroke-width="1.6"/><path d="M305,1072 L420,1113.5" fill="none" stroke="#231f20" stroke-width="2.6" stroke-dasharray="1.6 1.1"/><path d="M318,1082.5 L413,1118.5" fill="none" stroke="#231f20" stroke-width="2.6" stroke-dasharray="1.6 1.1"/><path d="M411,1110 L426,1115.5 Q428.5,1117 429,1121 L430,1132" fill="none" stroke="#231f20" stroke-width="1.6"/><path d="M303,1083 L309,1068 M313,1086 L318,1077" fill="none" stroke="#231f20" stroke-width="1.3"/><circle cx="418" cy="1121" r="2.6" fill="none" stroke="#231f20" stroke-width="1.2"/><path d="M347,968 a3,3 0 1,0 0.1,0" fill="none" stroke="#231f20" stroke-width="1.2"/></g>
<rect x="1324" y="798.5" width="24.7" height="47.7" fill="#fff" stroke="#231f20" stroke-width="2"/>
<circle cx="1336.4" cy="813.5" r="7.5" fill="none" stroke="#231f20" stroke-width="1.4"/><circle cx="1336.4" cy="832.5" r="7.5" fill="none" stroke="#231f20" stroke-width="1.4"/>
<path d="M1334,809 l0,7 M1339,809 l0,7 M1334,828 l0,7 M1339,828 l0,7" stroke="#231f20" stroke-width="1.1"/>
<path d="M1301,838 C1288,846 1280,852 1281,864 C1282,872 1300,874 1306,882 C1310,890 1300,893 1268,893" fill="none" stroke="#2a2a2a" stroke-width="8.5" stroke-linecap="round"/>
<path d="M1301,838 C1288,846 1280,852 1281,864 C1282,872 1300,874 1306,882 C1310,890 1300,893 1268,893" fill="none" stroke="#6d6d6d" stroke-width="4.5"/>
<path d="M1297,836 L1311,822 L1320,830 L1306,844 Z" fill="#6a6a6a" stroke="#231f20" stroke-width="1.8"/>
<path d="M1314,826 L1324,820 M1318,831 L1326,826" stroke="#231f20" stroke-width="1.6"/>
<path d="M1231.7,876 L1252,874 L1268.7,884 L1268.7,895.5 L1252,897 L1231.7,893 Z" fill="#6a6a6a" stroke="#231f20" stroke-width="2"/>
<path d="M1235,879 L1243,878 M1235,884 L1243,883 M1235,889 L1243,888" stroke="#ddd" stroke-width="1.2"/>
<path d="M1238,880 L1238,889" stroke="#231f20" stroke-width="1.4"/>
<path d="M1224,870 L1206,866 L1208,860 L1191.7,872 L1205,884 L1206,878 L1224,882 Z" fill="#e5173a"/>
<path d="M1282,820 L1294,810 L1290,806 L1310.2,800 L1305,819 L1300,815 L1288,826 Z" fill="#e5173a"/>
<path d="M1210.2,964 L1248.7,964 L1190.2,892.4 Z" fill="#2b2b2b"/>
<defs><clipPath id="c6"><rect x="914.6" y="964.7" width="449.6" height="209.5" rx="26"/></clipPath></defs>
<g clip-path="url(#c6)">
<rect x="900" y="950" width="480" height="240" fill="#fff"/>
<path d="M957,1031 Q955,1040 962,1042 L1000,1050 Q1040,1062 1080,1056 L1132,1048 L1263,1003 L1300,1000 L1314.7,1007 L1313,992 Q1308,986 1297,985 L1220,968 Q1213,967 1206,969 L1150,983.4 Z" fill="#fff" stroke="#231f20" stroke-width="2" stroke-linejoin="round"/>
<path d="M960,1035 L1043,1049 L1150,1026 L1263,1002 M1043,1025 L1150,997.5 L1210,982 M1043,1025 L1080,1032 M1130,988 L1200,970" fill="none" stroke="#231f20" stroke-width="1.4"/>
<path d="M1199.5,976.3 L1277.8,994" fill="none" stroke="#333" stroke-width="4" stroke-dasharray="3 2"/>
<path d="M1105,1033 L1112,1029 L1118,1035 L1116,1058 L1108,1060 Z M1260,996 Q1268,985 1278,995 L1275,1010 L1262,1012 Z" fill="#fff" stroke="#231f20" stroke-width="1.4"/>
<path d="M976.6,1045 L976.6,1107 L1054.5,1147 Q1062,1150 1068.7,1149.8 L1122.5,1137 L1124,1072 L1132.4,1069 L1132.4,1050" fill="#fff" stroke="#231f20" stroke-width="2" stroke-linejoin="round"/>
<path d="M1102.7,1080.4 L1102.7,1139 M1102.7,1080.4 L1124,1072" fill="none" stroke="#231f20" stroke-width="1.5"/>
<path d="M1132.4,1069 L1132.4,1130 L1160,1122 M1132,1090 L1165,1082 L1166,1074 L1140,1080 M1134,1103 L1150,1100 L1150,1113 L1142,1116 L1136,1110 M1156.6,1056 L1277.8,1029.5 M1170,1050 L1176,1020 L1182,1019 L1196,1036 L1188,1050 M1150,1060 L1160,1040 M1245,1010 L1250,1030 L1280,1026" fill="none" stroke="#231f20" stroke-width="1.5"/>
<path d="M1278,1029.5 L1285,1045.7 L1308.8,1045.7 L1308.8,1081.2 L1283.7,1088 M1285.2,1008.8 L1322.1,1006 L1322.1,1043 L1285.2,1045.7 Z M1306,1021 L1315,1020 L1315,1039 L1306,1040 Z M1300,1083 L1308,1076" fill="none" stroke="#231f20" stroke-width="1.6"/>
<path d="M1181.7,1072.3 L1271.9,1053.1 L1282.2,1059 L1283.7,1107 L1267.4,1112.2 L1199.5,1127 L1193.5,1125.5 L1183.2,1080 Z" fill="#fff" stroke="#231f20" stroke-width="1.8" stroke-linejoin="round"/>
<path d="M1193.5,1078.2 L1267.4,1073.8 L1267.4,1112.2 L1199.5,1125.5 Z" fill="#a1a1a4"/>
<path d="M1193.5,1078.2 L1200,1078 L1204,1124 M1267.4,1073.8 L1282,1059" fill="none" stroke="#231f20" stroke-width="1.3"/>
<path d="M1185,1078 L1172,1118 M1190,1074 L1178,1115" fill="none" stroke="#231f20" stroke-width="1.4"/>
<path d="M1196,1104 L1202,1103 L1202,1118 L1196,1119 Z" fill="#555"/>
<path d="M1158,1128 Q1136,1140 1134,1150 Q1138,1160 1150.7,1176" fill="none" stroke="#2a2a2a" stroke-width="6" stroke-linecap="round"/>
<path d="M1156,1131 Q1140,1140 1138,1150 Q1141,1160 1150,1172" fill="none" stroke="#999" stroke-width="1.5"/>
<path d="M1146,1124 L1165,1117 L1171.4,1122 L1170,1130 L1152,1137 Z" fill="#333" stroke="#231f20" stroke-width="1.5"/>
<path d="M1176,1116 L1186,1113.7 L1184,1109 L1193.5,1117 L1187,1124 L1186,1120 L1177,1122.6 Z" fill="#e5173a"/>
</g>
<rect x="914.6" y="964.7" width="449.6" height="209.5" rx="28" fill="none" stroke="#2b2b2b" stroke-width="6"/>
<g transform="translate(1232.1,1560.8) scale(1.045) translate(-251,-1033)"><path d="M251,1033 L324,965.5 Q329,961.5 336,961.8 L366,971 L367.5,974 L516.5,1015 Q524.5,1018 525.3,1026 L524.5,1039 L521.5,1073 Q520,1080 517,1084 L482,1133 Q476,1141 468,1144.5 Q460,1146 452,1142 L430,1132 L300,1084 Q285,1080 279,1075 L275,1055 L273,1050 L256,1042 Q250,1039 251,1033 Z" fill="#fff" stroke="#231f20" stroke-width="2.1" stroke-linejoin="round"/><path d="M253,1038 L461,1113.5 Q468,1115.5 472.5,1110 L521,1036.5 Q523,1032 523.5,1026" fill="none" stroke="#231f20" stroke-width="1.4"/><path d="M256,1042.5 L461,1120 Q470,1122.5 475,1116.5 L522.5,1039.5" fill="none" stroke="#231f20" stroke-width="1.8"/><path d="M336,964.5 L366,973.5 L516,1014.5 Q522,1017 521.5,1022" fill="none" stroke="#231f20" stroke-width="1.3"/><path d="M351.5,975.5 L487,1012" fill="none" stroke="#231f20" stroke-width="1.3"/><path d="M267,1027 L281,1033 Q283,1034 285,1032 L334,983 Q336,980 333,979 L324,976 Q322,975.5 320.5,977 L265.5,1024 Q264,1026 267,1027 Z" fill="none" stroke="#231f20" stroke-width="1.6"/><ellipse cx="284" cy="1020.5" rx="3.6" ry="2.6" transform="rotate(-42 284 1020.5)" fill="none" stroke="#231f20" stroke-width="1.4"/><ellipse cx="292" cy="1013" rx="3.6" ry="2.6" transform="rotate(-42 292 1013)" fill="none" stroke="#231f20" stroke-width="1.4"/><ellipse cx="299.5" cy="1006.5" rx="3.6" ry="2.6" transform="rotate(-42 299.5 1006.5)" fill="none" stroke="#231f20" stroke-width="1.4"/><path d="M309,998 l4,-4 M312,1000 l6,-6 l-3,-1 M316,989 l6,-6 l3,2 l-6,6 z" fill="none" stroke="#231f20" stroke-width="1.4"/><path d="M351.5,975.5 L320.5,1009 Q319,1012 323,1013.5 L398,1036 L401,1040 L453,1056.5 Q457.5,1057 460,1053 L487,1012" fill="none" stroke="#231f20" stroke-width="2" stroke-dasharray="2.2 0.6"/><path d="M301,1084 L297.5,1068 Q297,1063 302,1064.5 L419,1108.5" fill="none" stroke="#231f20" stroke-width="1.6"/><path d="M305,1072 L420,1113.5" fill="none" stroke="#231f20" stroke-width="2.6" stroke-dasharray="1.6 1.1"/><path d="M318,1082.5 L413,1118.5" fill="none" stroke="#231f20" stroke-width="2.6" stroke-dasharray="1.6 1.1"/><path d="M411,1110 L426,1115.5 Q428.5,1117 429,1121 L430,1132" fill="none" stroke="#231f20" stroke-width="1.6"/><path d="M303,1083 L309,1068 M313,1086 L318,1077" fill="none" stroke="#231f20" stroke-width="1.3"/><circle cx="418" cy="1121" r="2.6" fill="none" stroke="#231f20" stroke-width="1.2"/><path d="M347,968 a3,3 0 1,0 0.1,0" fill="none" stroke="#231f20" stroke-width="1.2"/></g>
<path d="M1206,1458.9 L1206,1502.1 L1288.6,1509.9 Z" fill="#2b2b2b"/>
<rect x="1012.2" y="1389.7" width="193.9" height="142.5" rx="24" fill="#fff" stroke="#2b2b2b" stroke-width="6"/>
<circle cx="1045" cy="1434.4" r="4.6" fill="none" stroke="#231f20" stroke-width="2"/>
<rect x="1060.5" y="1401.4" width="67.5" height="66.6" rx="7" fill="#a3a3a6" stroke="#2b2b2b" stroke-width="2.6"/>
<path d="M1072.8,1429.2 A8.5,8.5 0 1,0 1083.8,1429.2" fill="none" stroke="#231f20" stroke-width="1.8"/>
<path d="M1078.3,1423.7 L1078.3,1435.7" stroke="#231f20" stroke-width="1.8"/>
<path d="M1097.3,1424.7 L1091.3,1442.7" stroke="#231f20" stroke-width="1.8"/>
<circle cx="1109.3" cy="1434.7" r="8.5" fill="none" stroke="#231f20" stroke-width="1.8"/>
<path d="M1102.8,1430.2 L1115.8,1430.2 L1109.3,1441.7 Z" fill="none" stroke="#231f20" stroke-width="1.5"/>
<defs><clipPath id="c7"><rect x="1015" y="1392" width="188" height="137" rx="22"/></clipPath></defs>
<g clip-path="url(#c7)">
<path d="M1080,1540 L1081,1516 Q1086,1511 1092,1515 L1098,1524 L1101,1540 Z" fill="#fff" stroke="#231f20" stroke-width="1.6"/>
<path d="M1085,1516 Q1090,1520 1089,1532" fill="none" stroke="#231f20" stroke-width="1"/>
<path d="M1096,1545 L1090,1458 C1089,1447 1100,1443 1104,1452 L1116,1510 C1115,1490 1120,1480 1126,1482 C1133,1484 1136,1495 1140,1512 C1140,1500 1146,1490 1152,1492 C1158,1494 1160,1505 1161,1515 C1164,1505 1170,1502 1175,1505 C1178,1510 1180,1525 1181,1545 Z" fill="#fff" stroke="#231f20" stroke-width="1.8" stroke-linejoin="round"/>
<path d="M1116,1510 L1122,1545 M1140,1512 L1145,1525 M1161,1515 L1165,1545" fill="none" stroke="#231f20" stroke-width="1.5"/>
<path d="M1094,1455 Q1098,1460 1103,1455" fill="none" stroke="#231f20" stroke-width="1"/>
</g>
<rect x="1012.2" y="1389.7" width="193.9" height="142.5" rx="24" fill="none" stroke="#2b2b2b" stroke-width="6"/>
<path d="M1055.4,1548.5 L1110.1,1548.5 L1082.8,1567.7 Z" fill="#6d6d70"/>
<rect x="1012.5" y="1581.3" width="140.8" height="96.5" rx="28" fill="#fff" stroke="#2b2b2b" stroke-width="6"/>
<rect x="1068.6" y="1595" width="70.2" height="70" rx="8" fill="#fff" stroke="#231f20" stroke-width="2"/>
<rect x="1018" y="1623" width="34" height="13" fill="#fff"/>
<path d="M1074.9,1629.5 L1064.9,1634.0 L1064.9,1625.0 Z M1068.5,1645.1 L1058.2,1641.2 L1064.6,1634.8 Z M1052.9,1651.5 L1048.4,1641.5 L1057.4,1641.5 Z M1037.3,1645.1 L1041.2,1634.8 L1047.6,1641.2 Z M1030.9,1629.5 L1040.9,1625.0 L1040.9,1634.0 Z M1037.3,1613.9 L1047.6,1617.8 L1041.2,1624.2 Z M1052.9,1607.5 L1057.4,1617.5 L1048.4,1617.5 Z M1068.5,1613.9 L1064.6,1624.2 L1058.2,1617.8 Z" fill="#e5173a"/>
<circle cx="1052.9" cy="1629.5" r="4" fill="#8a8a8a" stroke="#231f20" stroke-width="1.8"/>
<path d="M1082.5,1624.5 A8.3,8.3 0 1,0 1093.5,1624.5" fill="none" stroke="#231f20" stroke-width="2.1"/>
<path d="M1088,1619 L1088,1631" stroke="#231f20" stroke-width="2.1"/>
<path d="M1107,1620 L1101,1638" stroke="#231f20" stroke-width="2.1"/>
<circle cx="1119" cy="1630" r="8.3" fill="none" stroke="#231f20" stroke-width="2.1"/>
<path d="M1112.5,1625.5 L1125.5,1625.5 L1119,1637 Z" fill="none" stroke="#231f20" stroke-width="1.8"/>
<path d="M961.4,1629.5 L1030,1629.5" stroke="#555" stroke-width="5.5" stroke-dasharray="11 7"/>
<defs><clipPath id="cb"><rect x="1200" y="1900" width="281.5" height="236"/></clipPath></defs>
<g clip-path="url(#cb)"><g transform="translate(1269,2006.8) scale(1.07) translate(-251,-1033)"><path d="M251,1033 L324,965.5 Q329,961.5 336,961.8 L366,971 L367.5,974 L516.5,1015 Q524.5,1018 525.3,1026 L524.5,1039 L521.5,1073 Q520,1080 517,1084 L482,1133 Q476,1141 468,1144.5 Q460,1146 452,1142 L430,1132 L300,1084 Q285,1080 279,1075 L275,1055 L273,1050 L256,1042 Q250,1039 251,1033 Z" fill="#fff" stroke="#231f20" stroke-width="2.1" stroke-linejoin="round"/><path d="M253,1038 L461,1113.5 Q468,1115.5 472.5,1110 L521,1036.5 Q523,1032 523.5,1026" fill="none" stroke="#231f20" stroke-width="1.4"/><path d="M256,1042.5 L461,1120 Q470,1122.5 475,1116.5 L522.5,1039.5" fill="none" stroke="#231f20" stroke-width="1.8"/><path d="M336,964.5 L366,973.5 L516,1014.5 Q522,1017 521.5,1022" fill="none" stroke="#231f20" stroke-width="1.3"/><path d="M351.5,975.5 L487,1012" fill="none" stroke="#231f20" stroke-width="1.3"/><path d="M267,1027 L281,1033 Q283,1034 285,1032 L334,983 Q336,980 333,979 L324,976 Q322,975.5 320.5,977 L265.5,1024 Q264,1026 267,1027 Z" fill="none" stroke="#231f20" stroke-width="1.6"/><ellipse cx="284" cy="1020.5" rx="3.6" ry="2.6" transform="rotate(-42 284 1020.5)" fill="none" stroke="#231f20" stroke-width="1.4"/><ellipse cx="292" cy="1013" rx="3.6" ry="2.6" transform="rotate(-42 292 1013)" fill="none" stroke="#231f20" stroke-width="1.4"/><ellipse cx="299.5" cy="1006.5" rx="3.6" ry="2.6" transform="rotate(-42 299.5 1006.5)" fill="none" stroke="#231f20" stroke-width="1.4"/><path d="M309,998 l4,-4 M312,1000 l6,-6 l-3,-1 M316,989 l6,-6 l3,2 l-6,6 z" fill="none" stroke="#231f20" stroke-width="1.4"/><path d="M351.5,975.5 L320.5,1009 Q319,1012 323,1013.5 L398,1036 L401,1040 L453,1056.5 Q457.5,1057 460,1053 L487,1012" fill="none" stroke="#231f20" stroke-width="2" stroke-dasharray="2.2 0.6"/><path d="M301,1084 L297.5,1068 Q297,1063 302,1064.5 L419,1108.5" fill="none" stroke="#231f20" stroke-width="1.6"/><path d="M305,1072 L420,1113.5" fill="none" stroke="#231f20" stroke-width="2.6" stroke-dasharray="1.6 1.1"/><path d="M318,1082.5 L413,1118.5" fill="none" stroke="#231f20" stroke-width="2.6" stroke-dasharray="1.6 1.1"/><path d="M411,1110 L426,1115.5 Q428.5,1117 429,1121 L430,1132" fill="none" stroke="#231f20" stroke-width="1.6"/><path d="M303,1083 L309,1068 M313,1086 L318,1077" fill="none" stroke="#231f20" stroke-width="1.3"/><circle cx="418" cy="1121" r="2.6" fill="none" stroke="#231f20" stroke-width="1.2"/><path d="M347,968 a3,3 0 1,0 0.1,0" fill="none" stroke="#231f20" stroke-width="1.2"/></g></g>
<path d="M1203,1951 L1203,1987 L1313,1964 Z" fill="#2b2b2b" stroke="#fff" stroke-width="2"/>
<rect x="1047.4" y="1916.5" width="152.8" height="95" rx="28" fill="#fff" stroke="#2b2b2b" stroke-width="6"/>
<rect x="1109.7" y="1943.8" width="69.3" height="41.2" rx="8" fill="#fff" stroke="#231f20" stroke-width="2"/>
<path d="M1137,1952 L1139,1951 L1141,1954 L1150,1954 L1150,1977 L1137,1977 Z" fill="none" stroke="#231f20" stroke-width="1.6"/>
<path d="M1143.5,1958 L1143.5,1971 M1140.5,1967 L1143.5,1972 L1146.5,1967" fill="none" stroke="#231f20" stroke-width="1.6"/>
<rect x="1104" y="1950" width="8" height="30" fill="#fff"/>
<path d="M1113.4,1964.5 L1105.4,1969.0 L1105.4,1960.0 Z M1094.4,1983.5 L1089.9,1975.5 L1098.9,1975.5 Z M1075.4,1964.5 L1083.4,1960.0 L1083.4,1969.0 Z M1094.4,1945.5 L1098.9,1953.5 L1089.9,1953.5 Z" fill="#e5173a"/>
<path d="M1107.8,1977.9 L1099.0,1975.5 L1105.4,1969.1 Z M1081.0,1977.9 L1083.4,1969.1 L1089.8,1975.5 Z M1081.0,1951.1 L1089.8,1953.5 L1083.4,1959.9 Z M1107.8,1951.1 L1105.4,1959.9 L1099.0,1953.5 Z" fill="#fff" stroke="#e5173a" stroke-width="1.6"/>
<circle cx="1094.4" cy="1964.5" r="4" fill="#8a8a8a" stroke="#231f20" stroke-width="1.8"/>
<path d="M993.9,1943 L1045.6,1943 L1083.8,1960.3" fill="none" stroke="#fff" stroke-width="9"/>
<path d="M993.9,1943 L1045.6,1943 L1083.8,1960.3" fill="none" stroke="#1e1e1e" stroke-width="5"/>
<rect x="1088.5" y="1995" width="11.5" height="87" fill="#fff"/>
<path d="M1094.3,1996 L1094.3,2081" stroke="#2b2b2b" stroke-width="6" stroke-dasharray="8 5"/>
<rect x="657.3" y="663.5" width="130.7" height="130.5" rx="28" ry="28" fill="#fff" stroke="#333" stroke-width="5"/>
<rect x="670" y="655" width="48" height="14" fill="#fff"/>
<rect x="674" y="650" width="29" height="20.5" rx="3" fill="#2a2a2a"/>
<path d="M702,660 L715.5,652.5 L715.5,669 Z" fill="#2a2a2a"/>
<path d="M675.60,682.80h2.65v2.65h-2.65zM678.10,682.80h2.65v2.65h-2.65zM680.59,682.80h2.65v2.65h-2.65zM683.09,682.80h2.65v2.65h-2.65zM685.59,682.80h2.65v2.65h-2.65zM688.09,682.80h2.65v2.65h-2.65zM690.58,682.80h2.65v2.65h-2.65zM695.58,682.80h2.65v2.65h-2.65zM698.08,682.80h2.65v2.65h-2.65zM700.57,682.80h2.65v2.65h-2.65zM703.07,682.80h2.65v2.65h-2.65zM705.57,682.80h2.65v2.65h-2.65zM710.56,682.80h2.65v2.65h-2.65zM713.06,682.80h2.65v2.65h-2.65zM723.05,682.80h2.65v2.65h-2.65zM728.04,682.80h2.65v2.65h-2.65zM733.04,682.80h2.65v2.65h-2.65zM735.54,682.80h2.65v2.65h-2.65zM738.03,682.80h2.65v2.65h-2.65zM740.53,682.80h2.65v2.65h-2.65zM745.52,682.80h2.65v2.65h-2.65zM750.52,682.80h2.65v2.65h-2.65zM753.02,682.80h2.65v2.65h-2.65zM755.51,682.80h2.65v2.65h-2.65zM758.01,682.80h2.65v2.65h-2.65zM760.51,682.80h2.65v2.65h-2.65zM763.01,682.80h2.65v2.65h-2.65zM765.50,682.80h2.65v2.65h-2.65zM675.60,685.30h2.65v2.65h-2.65zM690.58,685.30h2.65v2.65h-2.65zM705.57,685.30h2.65v2.65h-2.65zM710.56,685.30h2.65v2.65h-2.65zM713.06,685.30h2.65v2.65h-2.65zM718.05,685.30h2.65v2.65h-2.65zM720.55,685.30h2.65v2.65h-2.65zM723.05,685.30h2.65v2.65h-2.65zM735.54,685.30h2.65v2.65h-2.65zM745.52,685.30h2.65v2.65h-2.65zM750.52,685.30h2.65v2.65h-2.65zM765.50,685.30h2.65v2.65h-2.65zM675.60,687.79h2.65v2.65h-2.65zM680.59,687.79h2.65v2.65h-2.65zM683.09,687.79h2.65v2.65h-2.65zM685.59,687.79h2.65v2.65h-2.65zM690.58,687.79h2.65v2.65h-2.65zM695.58,687.79h2.65v2.65h-2.65zM700.57,687.79h2.65v2.65h-2.65zM703.07,687.79h2.65v2.65h-2.65zM705.57,687.79h2.65v2.65h-2.65zM710.56,687.79h2.65v2.65h-2.65zM713.06,687.79h2.65v2.65h-2.65zM725.55,687.79h2.65v2.65h-2.65zM728.04,687.79h2.65v2.65h-2.65zM730.54,687.79h2.65v2.65h-2.65zM738.03,687.79h2.65v2.65h-2.65zM740.53,687.79h2.65v2.65h-2.65zM743.03,687.79h2.65v2.65h-2.65zM745.52,687.79h2.65v2.65h-2.65zM750.52,687.79h2.65v2.65h-2.65zM755.51,687.79h2.65v2.65h-2.65zM758.01,687.79h2.65v2.65h-2.65zM760.51,687.79h2.65v2.65h-2.65zM765.50,687.79h2.65v2.65h-2.65zM675.60,690.29h2.65v2.65h-2.65zM680.59,690.29h2.65v2.65h-2.65zM683.09,690.29h2.65v2.65h-2.65zM685.59,690.29h2.65v2.65h-2.65zM690.58,690.29h2.65v2.65h-2.65zM698.08,690.29h2.65v2.65h-2.65zM700.57,690.29h2.65v2.65h-2.65zM703.07,690.29h2.65v2.65h-2.65zM708.06,690.29h2.65v2.65h-2.65zM710.56,690.29h2.65v2.65h-2.65zM713.06,690.29h2.65v2.65h-2.65zM715.56,690.29h2.65v2.65h-2.65zM718.05,690.29h2.65v2.65h-2.65zM720.55,690.29h2.65v2.65h-2.65zM723.05,690.29h2.65v2.65h-2.65zM725.55,690.29h2.65v2.65h-2.65zM728.04,690.29h2.65v2.65h-2.65zM730.54,690.29h2.65v2.65h-2.65zM733.04,690.29h2.65v2.65h-2.65zM740.53,690.29h2.65v2.65h-2.65zM743.03,690.29h2.65v2.65h-2.65zM745.52,690.29h2.65v2.65h-2.65zM750.52,690.29h2.65v2.65h-2.65zM755.51,690.29h2.65v2.65h-2.65zM758.01,690.29h2.65v2.65h-2.65zM760.51,690.29h2.65v2.65h-2.65zM765.50,690.29h2.65v2.65h-2.65zM675.60,692.79h2.65v2.65h-2.65zM680.59,692.79h2.65v2.65h-2.65zM683.09,692.79h2.65v2.65h-2.65zM685.59,692.79h2.65v2.65h-2.65zM690.58,692.79h2.65v2.65h-2.65zM698.08,692.79h2.65v2.65h-2.65zM710.56,692.79h2.65v2.65h-2.65zM713.06,692.79h2.65v2.65h-2.65zM715.56,692.79h2.65v2.65h-2.65zM725.55,692.79h2.65v2.65h-2.65zM728.04,692.79h2.65v2.65h-2.65zM745.52,692.79h2.65v2.65h-2.65zM750.52,692.79h2.65v2.65h-2.65zM755.51,692.79h2.65v2.65h-2.65zM758.01,692.79h2.65v2.65h-2.65zM760.51,692.79h2.65v2.65h-2.65zM765.50,692.79h2.65v2.65h-2.65zM675.60,695.29h2.65v2.65h-2.65zM690.58,695.29h2.65v2.65h-2.65zM695.58,695.29h2.65v2.65h-2.65zM705.57,695.29h2.65v2.65h-2.65zM713.06,695.29h2.65v2.65h-2.65zM725.55,695.29h2.65v2.65h-2.65zM728.04,695.29h2.65v2.65h-2.65zM733.04,695.29h2.65v2.65h-2.65zM740.53,695.29h2.65v2.65h-2.65zM743.03,695.29h2.65v2.65h-2.65zM750.52,695.29h2.65v2.65h-2.65zM765.50,695.29h2.65v2.65h-2.65zM675.60,697.78h2.65v2.65h-2.65zM678.10,697.78h2.65v2.65h-2.65zM680.59,697.78h2.65v2.65h-2.65zM683.09,697.78h2.65v2.65h-2.65zM685.59,697.78h2.65v2.65h-2.65zM688.09,697.78h2.65v2.65h-2.65zM690.58,697.78h2.65v2.65h-2.65zM700.57,697.78h2.65v2.65h-2.65zM708.06,697.78h2.65v2.65h-2.65zM710.56,697.78h2.65v2.65h-2.65zM713.06,697.78h2.65v2.65h-2.65zM715.56,697.78h2.65v2.65h-2.65zM720.55,697.78h2.65v2.65h-2.65zM723.05,697.78h2.65v2.65h-2.65zM725.55,697.78h2.65v2.65h-2.65zM730.54,697.78h2.65v2.65h-2.65zM733.04,697.78h2.65v2.65h-2.65zM740.53,697.78h2.65v2.65h-2.65zM750.52,697.78h2.65v2.65h-2.65zM753.02,697.78h2.65v2.65h-2.65zM755.51,697.78h2.65v2.65h-2.65zM758.01,697.78h2.65v2.65h-2.65zM760.51,697.78h2.65v2.65h-2.65zM763.01,697.78h2.65v2.65h-2.65zM765.50,697.78h2.65v2.65h-2.65zM698.08,700.28h2.65v2.65h-2.65zM700.57,700.28h2.65v2.65h-2.65zM715.56,700.28h2.65v2.65h-2.65zM728.04,700.28h2.65v2.65h-2.65zM733.04,700.28h2.65v2.65h-2.65zM745.52,700.28h2.65v2.65h-2.65zM675.60,702.78h2.65v2.65h-2.65zM685.59,702.78h2.65v2.65h-2.65zM693.08,702.78h2.65v2.65h-2.65zM700.57,702.78h2.65v2.65h-2.65zM705.57,702.78h2.65v2.65h-2.65zM708.06,702.78h2.65v2.65h-2.65zM715.56,702.78h2.65v2.65h-2.65zM718.05,702.78h2.65v2.65h-2.65zM723.05,702.78h2.65v2.65h-2.65zM725.55,702.78h2.65v2.65h-2.65zM728.04,702.78h2.65v2.65h-2.65zM733.04,702.78h2.65v2.65h-2.65zM738.03,702.78h2.65v2.65h-2.65zM740.53,702.78h2.65v2.65h-2.65zM743.03,702.78h2.65v2.65h-2.65zM750.52,702.78h2.65v2.65h-2.65zM760.51,702.78h2.65v2.65h-2.65zM763.01,702.78h2.65v2.65h-2.65zM765.50,702.78h2.65v2.65h-2.65zM678.10,705.28h2.65v2.65h-2.65zM680.59,705.28h2.65v2.65h-2.65zM683.09,705.28h2.65v2.65h-2.65zM690.58,705.28h2.65v2.65h-2.65zM693.08,705.28h2.65v2.65h-2.65zM703.07,705.28h2.65v2.65h-2.65zM705.57,705.28h2.65v2.65h-2.65zM710.56,705.28h2.65v2.65h-2.65zM713.06,705.28h2.65v2.65h-2.65zM723.05,705.28h2.65v2.65h-2.65zM728.04,705.28h2.65v2.65h-2.65zM733.04,705.28h2.65v2.65h-2.65zM735.54,705.28h2.65v2.65h-2.65zM743.03,705.28h2.65v2.65h-2.65zM745.52,705.28h2.65v2.65h-2.65zM750.52,705.28h2.65v2.65h-2.65zM753.02,705.28h2.65v2.65h-2.65zM755.51,705.28h2.65v2.65h-2.65zM758.01,705.28h2.65v2.65h-2.65zM760.51,705.28h2.65v2.65h-2.65zM763.01,705.28h2.65v2.65h-2.65zM765.50,705.28h2.65v2.65h-2.65zM678.10,707.77h2.65v2.65h-2.65zM683.09,707.77h2.65v2.65h-2.65zM685.59,707.77h2.65v2.65h-2.65zM688.09,707.77h2.65v2.65h-2.65zM690.58,707.77h2.65v2.65h-2.65zM693.08,707.77h2.65v2.65h-2.65zM700.57,707.77h2.65v2.65h-2.65zM703.07,707.77h2.65v2.65h-2.65zM708.06,707.77h2.65v2.65h-2.65zM713.06,707.77h2.65v2.65h-2.65zM715.56,707.77h2.65v2.65h-2.65zM720.55,707.77h2.65v2.65h-2.65zM730.54,707.77h2.65v2.65h-2.65zM740.53,707.77h2.65v2.65h-2.65zM743.03,707.77h2.65v2.65h-2.65zM745.52,707.77h2.65v2.65h-2.65zM748.02,707.77h2.65v2.65h-2.65zM750.52,707.77h2.65v2.65h-2.65zM755.51,707.77h2.65v2.65h-2.65zM758.01,707.77h2.65v2.65h-2.65zM760.51,707.77h2.65v2.65h-2.65zM678.10,710.27h2.65v2.65h-2.65zM680.59,710.27h2.65v2.65h-2.65zM683.09,710.27h2.65v2.65h-2.65zM685.59,710.27h2.65v2.65h-2.65zM688.09,710.27h2.65v2.65h-2.65zM690.58,710.27h2.65v2.65h-2.65zM693.08,710.27h2.65v2.65h-2.65zM703.07,710.27h2.65v2.65h-2.65zM708.06,710.27h2.65v2.65h-2.65zM710.56,710.27h2.65v2.65h-2.65zM713.06,710.27h2.65v2.65h-2.65zM715.56,710.27h2.65v2.65h-2.65zM718.05,710.27h2.65v2.65h-2.65zM723.05,710.27h2.65v2.65h-2.65zM728.04,710.27h2.65v2.65h-2.65zM730.54,710.27h2.65v2.65h-2.65zM733.04,710.27h2.65v2.65h-2.65zM735.54,710.27h2.65v2.65h-2.65zM738.03,710.27h2.65v2.65h-2.65zM740.53,710.27h2.65v2.65h-2.65zM743.03,710.27h2.65v2.65h-2.65zM745.52,710.27h2.65v2.65h-2.65zM763.01,710.27h2.65v2.65h-2.65zM765.50,710.27h2.65v2.65h-2.65zM678.10,712.77h2.65v2.65h-2.65zM685.59,712.77h2.65v2.65h-2.65zM700.57,712.77h2.65v2.65h-2.65zM725.55,712.77h2.65v2.65h-2.65zM728.04,712.77h2.65v2.65h-2.65zM730.54,712.77h2.65v2.65h-2.65zM733.04,712.77h2.65v2.65h-2.65zM735.54,712.77h2.65v2.65h-2.65zM750.52,712.77h2.65v2.65h-2.65zM753.02,712.77h2.65v2.65h-2.65zM675.60,715.26h2.65v2.65h-2.65zM680.59,715.26h2.65v2.65h-2.65zM683.09,715.26h2.65v2.65h-2.65zM685.59,715.26h2.65v2.65h-2.65zM690.58,715.26h2.65v2.65h-2.65zM698.08,715.26h2.65v2.65h-2.65zM700.57,715.26h2.65v2.65h-2.65zM703.07,715.26h2.65v2.65h-2.65zM715.56,715.26h2.65v2.65h-2.65zM718.05,715.26h2.65v2.65h-2.65zM720.55,715.26h2.65v2.65h-2.65zM725.55,715.26h2.65v2.65h-2.65zM730.54,715.26h2.65v2.65h-2.65zM733.04,715.26h2.65v2.65h-2.65zM735.54,715.26h2.65v2.65h-2.65zM745.52,715.26h2.65v2.65h-2.65zM750.52,715.26h2.65v2.65h-2.65zM753.02,715.26h2.65v2.65h-2.65zM755.51,715.26h2.65v2.65h-2.65zM760.51,715.26h2.65v2.65h-2.65zM675.60,717.76h2.65v2.65h-2.65zM678.10,717.76h2.65v2.65h-2.65zM685.59,717.76h2.65v2.65h-2.65zM688.09,717.76h2.65v2.65h-2.65zM690.58,717.76h2.65v2.65h-2.65zM695.58,717.76h2.65v2.65h-2.65zM700.57,717.76h2.65v2.65h-2.65zM708.06,717.76h2.65v2.65h-2.65zM720.55,717.76h2.65v2.65h-2.65zM725.55,717.76h2.65v2.65h-2.65zM728.04,717.76h2.65v2.65h-2.65zM730.54,717.76h2.65v2.65h-2.65zM733.04,717.76h2.65v2.65h-2.65zM735.54,717.76h2.65v2.65h-2.65zM738.03,717.76h2.65v2.65h-2.65zM740.53,717.76h2.65v2.65h-2.65zM743.03,717.76h2.65v2.65h-2.65zM745.52,717.76h2.65v2.65h-2.65zM750.52,717.76h2.65v2.65h-2.65zM758.01,717.76h2.65v2.65h-2.65zM675.60,720.26h2.65v2.65h-2.65zM678.10,720.26h2.65v2.65h-2.65zM680.59,720.26h2.65v2.65h-2.65zM688.09,720.26h2.65v2.65h-2.65zM690.58,720.26h2.65v2.65h-2.65zM693.08,720.26h2.65v2.65h-2.65zM695.58,720.26h2.65v2.65h-2.65zM698.08,720.26h2.65v2.65h-2.65zM703.07,720.26h2.65v2.65h-2.65zM708.06,720.26h2.65v2.65h-2.65zM710.56,720.26h2.65v2.65h-2.65zM715.56,720.26h2.65v2.65h-2.65zM718.05,720.26h2.65v2.65h-2.65zM740.53,720.26h2.65v2.65h-2.65zM745.52,720.26h2.65v2.65h-2.65zM753.02,720.26h2.65v2.65h-2.65zM755.51,720.26h2.65v2.65h-2.65zM760.51,720.26h2.65v2.65h-2.65zM763.01,720.26h2.65v2.65h-2.65zM765.50,720.26h2.65v2.65h-2.65zM675.60,722.76h2.65v2.65h-2.65zM683.09,722.76h2.65v2.65h-2.65zM688.09,722.76h2.65v2.65h-2.65zM693.08,722.76h2.65v2.65h-2.65zM695.58,722.76h2.65v2.65h-2.65zM698.08,722.76h2.65v2.65h-2.65zM700.57,722.76h2.65v2.65h-2.65zM705.57,722.76h2.65v2.65h-2.65zM708.06,722.76h2.65v2.65h-2.65zM715.56,722.76h2.65v2.65h-2.65zM718.05,722.76h2.65v2.65h-2.65zM720.55,722.76h2.65v2.65h-2.65zM723.05,722.76h2.65v2.65h-2.65zM725.55,722.76h2.65v2.65h-2.65zM728.04,722.76h2.65v2.65h-2.65zM730.54,722.76h2.65v2.65h-2.65zM733.04,722.76h2.65v2.65h-2.65zM743.03,722.76h2.65v2.65h-2.65zM745.52,722.76h2.65v2.65h-2.65zM750.52,722.76h2.65v2.65h-2.65zM753.02,722.76h2.65v2.65h-2.65zM755.51,722.76h2.65v2.65h-2.65zM758.01,722.76h2.65v2.65h-2.65zM763.01,722.76h2.65v2.65h-2.65zM680.59,725.25h2.65v2.65h-2.65zM683.09,725.25h2.65v2.65h-2.65zM685.59,725.25h2.65v2.65h-2.65zM688.09,725.25h2.65v2.65h-2.65zM690.58,725.25h2.65v2.65h-2.65zM700.57,725.25h2.65v2.65h-2.65zM703.07,725.25h2.65v2.65h-2.65zM710.56,725.25h2.65v2.65h-2.65zM715.56,725.25h2.65v2.65h-2.65zM718.05,725.25h2.65v2.65h-2.65zM730.54,725.25h2.65v2.65h-2.65zM733.04,725.25h2.65v2.65h-2.65zM735.54,725.25h2.65v2.65h-2.65zM753.02,725.25h2.65v2.65h-2.65zM758.01,725.25h2.65v2.65h-2.65zM763.01,725.25h2.65v2.65h-2.65zM678.10,727.75h2.65v2.65h-2.65zM680.59,727.75h2.65v2.65h-2.65zM683.09,727.75h2.65v2.65h-2.65zM690.58,727.75h2.65v2.65h-2.65zM693.08,727.75h2.65v2.65h-2.65zM700.57,727.75h2.65v2.65h-2.65zM703.07,727.75h2.65v2.65h-2.65zM708.06,727.75h2.65v2.65h-2.65zM710.56,727.75h2.65v2.65h-2.65zM713.06,727.75h2.65v2.65h-2.65zM723.05,727.75h2.65v2.65h-2.65zM725.55,727.75h2.65v2.65h-2.65zM728.04,727.75h2.65v2.65h-2.65zM735.54,727.75h2.65v2.65h-2.65zM738.03,727.75h2.65v2.65h-2.65zM740.53,727.75h2.65v2.65h-2.65zM745.52,727.75h2.65v2.65h-2.65zM748.02,727.75h2.65v2.65h-2.65zM755.51,727.75h2.65v2.65h-2.65zM758.01,727.75h2.65v2.65h-2.65zM760.51,727.75h2.65v2.65h-2.65zM763.01,727.75h2.65v2.65h-2.65zM675.60,730.25h2.65v2.65h-2.65zM685.59,730.25h2.65v2.65h-2.65zM690.58,730.25h2.65v2.65h-2.65zM695.58,730.25h2.65v2.65h-2.65zM698.08,730.25h2.65v2.65h-2.65zM703.07,730.25h2.65v2.65h-2.65zM708.06,730.25h2.65v2.65h-2.65zM710.56,730.25h2.65v2.65h-2.65zM713.06,730.25h2.65v2.65h-2.65zM715.56,730.25h2.65v2.65h-2.65zM723.05,730.25h2.65v2.65h-2.65zM725.55,730.25h2.65v2.65h-2.65zM728.04,730.25h2.65v2.65h-2.65zM733.04,730.25h2.65v2.65h-2.65zM735.54,730.25h2.65v2.65h-2.65zM738.03,730.25h2.65v2.65h-2.65zM740.53,730.25h2.65v2.65h-2.65zM755.51,730.25h2.65v2.65h-2.65zM758.01,730.25h2.65v2.65h-2.65zM765.50,730.25h2.65v2.65h-2.65zM678.10,732.75h2.65v2.65h-2.65zM680.59,732.75h2.65v2.65h-2.65zM683.09,732.75h2.65v2.65h-2.65zM685.59,732.75h2.65v2.65h-2.65zM688.09,732.75h2.65v2.65h-2.65zM690.58,732.75h2.65v2.65h-2.65zM693.08,732.75h2.65v2.65h-2.65zM698.08,732.75h2.65v2.65h-2.65zM703.07,732.75h2.65v2.65h-2.65zM705.57,732.75h2.65v2.65h-2.65zM713.06,732.75h2.65v2.65h-2.65zM715.56,732.75h2.65v2.65h-2.65zM718.05,732.75h2.65v2.65h-2.65zM720.55,732.75h2.65v2.65h-2.65zM725.55,732.75h2.65v2.65h-2.65zM728.04,732.75h2.65v2.65h-2.65zM733.04,732.75h2.65v2.65h-2.65zM735.54,732.75h2.65v2.65h-2.65zM743.03,732.75h2.65v2.65h-2.65zM745.52,732.75h2.65v2.65h-2.65zM748.02,732.75h2.65v2.65h-2.65zM753.02,732.75h2.65v2.65h-2.65zM760.51,732.75h2.65v2.65h-2.65zM763.01,732.75h2.65v2.65h-2.65zM678.10,735.24h2.65v2.65h-2.65zM683.09,735.24h2.65v2.65h-2.65zM685.59,735.24h2.65v2.65h-2.65zM688.09,735.24h2.65v2.65h-2.65zM700.57,735.24h2.65v2.65h-2.65zM703.07,735.24h2.65v2.65h-2.65zM705.57,735.24h2.65v2.65h-2.65zM713.06,735.24h2.65v2.65h-2.65zM715.56,735.24h2.65v2.65h-2.65zM718.05,735.24h2.65v2.65h-2.65zM720.55,735.24h2.65v2.65h-2.65zM725.55,735.24h2.65v2.65h-2.65zM740.53,735.24h2.65v2.65h-2.65zM743.03,735.24h2.65v2.65h-2.65zM745.52,735.24h2.65v2.65h-2.65zM750.52,735.24h2.65v2.65h-2.65zM753.02,735.24h2.65v2.65h-2.65zM758.01,735.24h2.65v2.65h-2.65zM760.51,735.24h2.65v2.65h-2.65zM763.01,735.24h2.65v2.65h-2.65zM675.60,737.74h2.65v2.65h-2.65zM685.59,737.74h2.65v2.65h-2.65zM688.09,737.74h2.65v2.65h-2.65zM690.58,737.74h2.65v2.65h-2.65zM693.08,737.74h2.65v2.65h-2.65zM698.08,737.74h2.65v2.65h-2.65zM700.57,737.74h2.65v2.65h-2.65zM703.07,737.74h2.65v2.65h-2.65zM718.05,737.74h2.65v2.65h-2.65zM723.05,737.74h2.65v2.65h-2.65zM728.04,737.74h2.65v2.65h-2.65zM733.04,737.74h2.65v2.65h-2.65zM735.54,737.74h2.65v2.65h-2.65zM738.03,737.74h2.65v2.65h-2.65zM740.53,737.74h2.65v2.65h-2.65zM748.02,737.74h2.65v2.65h-2.65zM750.52,737.74h2.65v2.65h-2.65zM758.01,737.74h2.65v2.65h-2.65zM675.60,740.24h2.65v2.65h-2.65zM678.10,740.24h2.65v2.65h-2.65zM688.09,740.24h2.65v2.65h-2.65zM690.58,740.24h2.65v2.65h-2.65zM693.08,740.24h2.65v2.65h-2.65zM695.58,740.24h2.65v2.65h-2.65zM705.57,740.24h2.65v2.65h-2.65zM710.56,740.24h2.65v2.65h-2.65zM713.06,740.24h2.65v2.65h-2.65zM720.55,740.24h2.65v2.65h-2.65zM728.04,740.24h2.65v2.65h-2.65zM730.54,740.24h2.65v2.65h-2.65zM733.04,740.24h2.65v2.65h-2.65zM735.54,740.24h2.65v2.65h-2.65zM738.03,740.24h2.65v2.65h-2.65zM745.52,740.24h2.65v2.65h-2.65zM748.02,740.24h2.65v2.65h-2.65zM750.52,740.24h2.65v2.65h-2.65zM755.51,740.24h2.65v2.65h-2.65zM758.01,740.24h2.65v2.65h-2.65zM760.51,740.24h2.65v2.65h-2.65zM675.60,742.74h2.65v2.65h-2.65zM678.10,742.74h2.65v2.65h-2.65zM680.59,742.74h2.65v2.65h-2.65zM688.09,742.74h2.65v2.65h-2.65zM690.58,742.74h2.65v2.65h-2.65zM695.58,742.74h2.65v2.65h-2.65zM698.08,742.74h2.65v2.65h-2.65zM700.57,742.74h2.65v2.65h-2.65zM705.57,742.74h2.65v2.65h-2.65zM710.56,742.74h2.65v2.65h-2.65zM713.06,742.74h2.65v2.65h-2.65zM720.55,742.74h2.65v2.65h-2.65zM723.05,742.74h2.65v2.65h-2.65zM728.04,742.74h2.65v2.65h-2.65zM730.54,742.74h2.65v2.65h-2.65zM735.54,742.74h2.65v2.65h-2.65zM740.53,742.74h2.65v2.65h-2.65zM745.52,742.74h2.65v2.65h-2.65zM748.02,742.74h2.65v2.65h-2.65zM750.52,742.74h2.65v2.65h-2.65zM760.51,742.74h2.65v2.65h-2.65zM765.50,742.74h2.65v2.65h-2.65zM678.10,745.23h2.65v2.65h-2.65zM680.59,745.23h2.65v2.65h-2.65zM688.09,745.23h2.65v2.65h-2.65zM690.58,745.23h2.65v2.65h-2.65zM698.08,745.23h2.65v2.65h-2.65zM700.57,745.23h2.65v2.65h-2.65zM708.06,745.23h2.65v2.65h-2.65zM710.56,745.23h2.65v2.65h-2.65zM715.56,745.23h2.65v2.65h-2.65zM725.55,745.23h2.65v2.65h-2.65zM730.54,745.23h2.65v2.65h-2.65zM733.04,745.23h2.65v2.65h-2.65zM740.53,745.23h2.65v2.65h-2.65zM743.03,745.23h2.65v2.65h-2.65zM745.52,745.23h2.65v2.65h-2.65zM750.52,745.23h2.65v2.65h-2.65zM753.02,745.23h2.65v2.65h-2.65zM755.51,745.23h2.65v2.65h-2.65zM763.01,745.23h2.65v2.65h-2.65zM678.10,747.73h2.65v2.65h-2.65zM683.09,747.73h2.65v2.65h-2.65zM693.08,747.73h2.65v2.65h-2.65zM695.58,747.73h2.65v2.65h-2.65zM700.57,747.73h2.65v2.65h-2.65zM705.57,747.73h2.65v2.65h-2.65zM708.06,747.73h2.65v2.65h-2.65zM710.56,747.73h2.65v2.65h-2.65zM715.56,747.73h2.65v2.65h-2.65zM718.05,747.73h2.65v2.65h-2.65zM725.55,747.73h2.65v2.65h-2.65zM728.04,747.73h2.65v2.65h-2.65zM730.54,747.73h2.65v2.65h-2.65zM733.04,747.73h2.65v2.65h-2.65zM735.54,747.73h2.65v2.65h-2.65zM738.03,747.73h2.65v2.65h-2.65zM740.53,747.73h2.65v2.65h-2.65zM743.03,747.73h2.65v2.65h-2.65zM748.02,747.73h2.65v2.65h-2.65zM753.02,747.73h2.65v2.65h-2.65zM763.01,747.73h2.65v2.65h-2.65zM675.60,750.23h2.65v2.65h-2.65zM680.59,750.23h2.65v2.65h-2.65zM693.08,750.23h2.65v2.65h-2.65zM698.08,750.23h2.65v2.65h-2.65zM705.57,750.23h2.65v2.65h-2.65zM713.06,750.23h2.65v2.65h-2.65zM715.56,750.23h2.65v2.65h-2.65zM720.55,750.23h2.65v2.65h-2.65zM725.55,750.23h2.65v2.65h-2.65zM730.54,750.23h2.65v2.65h-2.65zM738.03,750.23h2.65v2.65h-2.65zM740.53,750.23h2.65v2.65h-2.65zM745.52,750.23h2.65v2.65h-2.65zM748.02,750.23h2.65v2.65h-2.65zM750.52,750.23h2.65v2.65h-2.65zM753.02,750.23h2.65v2.65h-2.65zM763.01,750.23h2.65v2.65h-2.65zM675.60,752.72h2.65v2.65h-2.65zM683.09,752.72h2.65v2.65h-2.65zM695.58,752.72h2.65v2.65h-2.65zM703.07,752.72h2.65v2.65h-2.65zM708.06,752.72h2.65v2.65h-2.65zM715.56,752.72h2.65v2.65h-2.65zM720.55,752.72h2.65v2.65h-2.65zM723.05,752.72h2.65v2.65h-2.65zM728.04,752.72h2.65v2.65h-2.65zM733.04,752.72h2.65v2.65h-2.65zM745.52,752.72h2.65v2.65h-2.65zM748.02,752.72h2.65v2.65h-2.65zM750.52,752.72h2.65v2.65h-2.65zM753.02,752.72h2.65v2.65h-2.65zM755.51,752.72h2.65v2.65h-2.65zM758.01,752.72h2.65v2.65h-2.65zM765.50,752.72h2.65v2.65h-2.65zM700.57,755.22h2.65v2.65h-2.65zM705.57,755.22h2.65v2.65h-2.65zM708.06,755.22h2.65v2.65h-2.65zM713.06,755.22h2.65v2.65h-2.65zM715.56,755.22h2.65v2.65h-2.65zM718.05,755.22h2.65v2.65h-2.65zM728.04,755.22h2.65v2.65h-2.65zM730.54,755.22h2.65v2.65h-2.65zM733.04,755.22h2.65v2.65h-2.65zM740.53,755.22h2.65v2.65h-2.65zM745.52,755.22h2.65v2.65h-2.65zM755.51,755.22h2.65v2.65h-2.65zM758.01,755.22h2.65v2.65h-2.65zM763.01,755.22h2.65v2.65h-2.65zM765.50,755.22h2.65v2.65h-2.65zM675.60,757.72h2.65v2.65h-2.65zM678.10,757.72h2.65v2.65h-2.65zM680.59,757.72h2.65v2.65h-2.65zM683.09,757.72h2.65v2.65h-2.65zM685.59,757.72h2.65v2.65h-2.65zM688.09,757.72h2.65v2.65h-2.65zM690.58,757.72h2.65v2.65h-2.65zM703.07,757.72h2.65v2.65h-2.65zM705.57,757.72h2.65v2.65h-2.65zM708.06,757.72h2.65v2.65h-2.65zM710.56,757.72h2.65v2.65h-2.65zM720.55,757.72h2.65v2.65h-2.65zM728.04,757.72h2.65v2.65h-2.65zM733.04,757.72h2.65v2.65h-2.65zM735.54,757.72h2.65v2.65h-2.65zM738.03,757.72h2.65v2.65h-2.65zM740.53,757.72h2.65v2.65h-2.65zM743.03,757.72h2.65v2.65h-2.65zM745.52,757.72h2.65v2.65h-2.65zM750.52,757.72h2.65v2.65h-2.65zM755.51,757.72h2.65v2.65h-2.65zM758.01,757.72h2.65v2.65h-2.65zM763.01,757.72h2.65v2.65h-2.65zM675.60,760.22h2.65v2.65h-2.65zM690.58,760.22h2.65v2.65h-2.65zM695.58,760.22h2.65v2.65h-2.65zM705.57,760.22h2.65v2.65h-2.65zM710.56,760.22h2.65v2.65h-2.65zM713.06,760.22h2.65v2.65h-2.65zM728.04,760.22h2.65v2.65h-2.65zM738.03,760.22h2.65v2.65h-2.65zM745.52,760.22h2.65v2.65h-2.65zM755.51,760.22h2.65v2.65h-2.65zM758.01,760.22h2.65v2.65h-2.65zM760.51,760.22h2.65v2.65h-2.65zM763.01,760.22h2.65v2.65h-2.65zM675.60,762.71h2.65v2.65h-2.65zM680.59,762.71h2.65v2.65h-2.65zM683.09,762.71h2.65v2.65h-2.65zM685.59,762.71h2.65v2.65h-2.65zM690.58,762.71h2.65v2.65h-2.65zM695.58,762.71h2.65v2.65h-2.65zM700.57,762.71h2.65v2.65h-2.65zM710.56,762.71h2.65v2.65h-2.65zM720.55,762.71h2.65v2.65h-2.65zM723.05,762.71h2.65v2.65h-2.65zM725.55,762.71h2.65v2.65h-2.65zM728.04,762.71h2.65v2.65h-2.65zM743.03,762.71h2.65v2.65h-2.65zM745.52,762.71h2.65v2.65h-2.65zM748.02,762.71h2.65v2.65h-2.65zM750.52,762.71h2.65v2.65h-2.65zM753.02,762.71h2.65v2.65h-2.65zM755.51,762.71h2.65v2.65h-2.65zM758.01,762.71h2.65v2.65h-2.65zM760.51,762.71h2.65v2.65h-2.65zM763.01,762.71h2.65v2.65h-2.65zM765.50,762.71h2.65v2.65h-2.65zM675.60,765.21h2.65v2.65h-2.65zM680.59,765.21h2.65v2.65h-2.65zM683.09,765.21h2.65v2.65h-2.65zM685.59,765.21h2.65v2.65h-2.65zM690.58,765.21h2.65v2.65h-2.65zM695.58,765.21h2.65v2.65h-2.65zM698.08,765.21h2.65v2.65h-2.65zM703.07,765.21h2.65v2.65h-2.65zM710.56,765.21h2.65v2.65h-2.65zM715.56,765.21h2.65v2.65h-2.65zM720.55,765.21h2.65v2.65h-2.65zM723.05,765.21h2.65v2.65h-2.65zM725.55,765.21h2.65v2.65h-2.65zM733.04,765.21h2.65v2.65h-2.65zM735.54,765.21h2.65v2.65h-2.65zM738.03,765.21h2.65v2.65h-2.65zM743.03,765.21h2.65v2.65h-2.65zM745.52,765.21h2.65v2.65h-2.65zM748.02,765.21h2.65v2.65h-2.65zM753.02,765.21h2.65v2.65h-2.65zM758.01,765.21h2.65v2.65h-2.65zM760.51,765.21h2.65v2.65h-2.65zM765.50,765.21h2.65v2.65h-2.65zM675.60,767.71h2.65v2.65h-2.65zM680.59,767.71h2.65v2.65h-2.65zM683.09,767.71h2.65v2.65h-2.65zM685.59,767.71h2.65v2.65h-2.65zM690.58,767.71h2.65v2.65h-2.65zM695.58,767.71h2.65v2.65h-2.65zM698.08,767.71h2.65v2.65h-2.65zM703.07,767.71h2.65v2.65h-2.65zM708.06,767.71h2.65v2.65h-2.65zM710.56,767.71h2.65v2.65h-2.65zM713.06,767.71h2.65v2.65h-2.65zM720.55,767.71h2.65v2.65h-2.65zM725.55,767.71h2.65v2.65h-2.65zM728.04,767.71h2.65v2.65h-2.65zM740.53,767.71h2.65v2.65h-2.65zM743.03,767.71h2.65v2.65h-2.65zM745.52,767.71h2.65v2.65h-2.65zM755.51,767.71h2.65v2.65h-2.65zM758.01,767.71h2.65v2.65h-2.65zM765.50,767.71h2.65v2.65h-2.65zM675.60,770.21h2.65v2.65h-2.65zM690.58,770.21h2.65v2.65h-2.65zM695.58,770.21h2.65v2.65h-2.65zM698.08,770.21h2.65v2.65h-2.65zM700.57,770.21h2.65v2.65h-2.65zM705.57,770.21h2.65v2.65h-2.65zM708.06,770.21h2.65v2.65h-2.65zM710.56,770.21h2.65v2.65h-2.65zM718.05,770.21h2.65v2.65h-2.65zM723.05,770.21h2.65v2.65h-2.65zM725.55,770.21h2.65v2.65h-2.65zM735.54,770.21h2.65v2.65h-2.65zM738.03,770.21h2.65v2.65h-2.65zM743.03,770.21h2.65v2.65h-2.65zM745.52,770.21h2.65v2.65h-2.65zM748.02,770.21h2.65v2.65h-2.65zM750.52,770.21h2.65v2.65h-2.65zM753.02,770.21h2.65v2.65h-2.65zM765.50,770.21h2.65v2.65h-2.65zM675.60,772.70h2.65v2.65h-2.65zM678.10,772.70h2.65v2.65h-2.65zM680.59,772.70h2.65v2.65h-2.65zM683.09,772.70h2.65v2.65h-2.65zM685.59,772.70h2.65v2.65h-2.65zM688.09,772.70h2.65v2.65h-2.65zM690.58,772.70h2.65v2.65h-2.65zM695.58,772.70h2.65v2.65h-2.65zM698.08,772.70h2.65v2.65h-2.65zM718.05,772.70h2.65v2.65h-2.65zM720.55,772.70h2.65v2.65h-2.65zM725.55,772.70h2.65v2.65h-2.65zM728.04,772.70h2.65v2.65h-2.65zM738.03,772.70h2.65v2.65h-2.65zM740.53,772.70h2.65v2.65h-2.65zM743.03,772.70h2.65v2.65h-2.65zM748.02,772.70h2.65v2.65h-2.65zM755.51,772.70h2.65v2.65h-2.65zM763.01,772.70h2.65v2.65h-2.65zM765.50,772.70h2.65v2.65h-2.65z" fill="#1a1a1a"/>
<g transform="translate(0,0)"><path d="M495,386 L499.5,416 Q501,421 509,421 L512,398 L520,399 L522,423 Q525,428 536,428 L546,393 L548,411 Q550,415 572,393.5 L574.5,368" fill="#fff" stroke="#231f20" stroke-width="2.2" stroke-linejoin="round"/><path d="M512,398 L509,421 M520,399 L522,423 M536,428 L538,398 M546,393 L548,411" fill="none" stroke="#231f20" stroke-width="1.6"/><path d="M472,378.6 L534,326 L597,344 L538.3,397.6 Z" fill="#fff" stroke="#231f20" stroke-width="2.4" stroke-linejoin="round"/><path d="M488,377 L535,336 L583,349.5 L537,390 Z" fill="none" stroke="#231f20" stroke-width="2" stroke-linejoin="round" rx="3"/><path d="M495,376 L536,341 L577,352 L537,385.5 Z" fill="none" stroke="#231f20" stroke-width="1.8" stroke-linejoin="round"/><path d="M500,374 L537,345 L570,354 L536,381 Z" fill="none" stroke="#231f20" stroke-width="1.3" stroke-linejoin="round"/><path d="M516,368 L540,348 L564,356 L540,378 Z" fill="#fff" stroke="#231f20" stroke-width="1.2"/><path d="M521,364 L548,368 M524,372 L542,375" stroke="#231f20" stroke-width="1.6"/></g>
<g transform="translate(108.5,0)"><path d="M495,386 L499.5,416 Q501,421 509,421 L512,398 L520,399 L522,423 Q525,428 536,428 L546,393 L548,411 Q550,415 572,393.5 L574.5,368" fill="#fff" stroke="#231f20" stroke-width="2.2" stroke-linejoin="round"/><path d="M512,398 L509,421 M520,399 L522,423 M536,428 L538,398 M546,393 L548,411" fill="none" stroke="#231f20" stroke-width="1.6"/><path d="M472,378.6 L534,326 L597,344 L538.3,397.6 Z" fill="#fff" stroke="#231f20" stroke-width="2.4" stroke-linejoin="round"/><path d="M488,377 L535,336 L583,349.5 L537,390 Z" fill="none" stroke="#231f20" stroke-width="2" stroke-linejoin="round" rx="3"/><path d="M495,376 L536,341 L577,352 L537,385.5 Z" fill="none" stroke="#231f20" stroke-width="1.8" stroke-linejoin="round"/><path d="M500,374 L537,345 L570,354 L536,381 Z" fill="none" stroke="#231f20" stroke-width="1.3" stroke-linejoin="round"/><path d="M516,368 L540,348 L564,356 L540,378 Z" fill="#fff" stroke="#231f20" stroke-width="1.2"/><path d="M521,364 L548,368 M524,372 L542,375" stroke="#231f20" stroke-width="1.6"/></g>
<path d="M624,371 L630,368 L645,373 L640,380 Z" fill="#2a2a2a"/>
<path d="M486.0,315.0 512.0,314.0 525.5,350.0Z" fill="#2b2b2b"/>
<ellipse cx="461.8" cy="287.5" rx="77.5" ry="33.5" fill="#fff" stroke="#2b2b2b" stroke-width="5"/>
<path d="M668.0,315.0 694.0,313.0 657.0,345.0Z" fill="#2b2b2b"/>
<ellipse cx="699.7" cy="287.5" rx="77.5" ry="33.5" fill="#fff" stroke="#2b2b2b" stroke-width="5"/>
<text x="412" y="303.5" font-family="Liberation Sans" font-weight="bold" font-size="44" fill="#222" stroke="#222" stroke-width="1.3" textLength="98" lengthAdjust="spacingAndGlyphs">Color</text>
<text x="649" y="303.5" font-family="Liberation Sans" font-weight="bold" font-size="44" fill="#222" stroke="#222" stroke-width="1.3" textLength="97.5" lengthAdjust="spacingAndGlyphs">Black</text>
<ellipse cx="241" cy="536.5" rx="70" ry="37" transform="rotate(-15.4 241 536.5)" fill="#fff"/>
<path d="M220.5,534.5 L174,528 L174,553 L220.5,540.5 Z" fill="#7b7b7b"/>
<path d="M220.5,534.5 L178,526 L176,531 L220.5,536 Z" fill="#b9b9b9"/>
<path d="M260.5,534.5 L304,536 L300,544 L260.5,538 Z" fill="#b4b4b4"/>
<g transform="translate(240.5,533.3) rotate(-15)"><ellipse cx="0" cy="0" rx="20.5" ry="12" fill="#fff" stroke="#231f20" stroke-width="1.8"/><ellipse cx="0" cy="0" rx="9" ry="5.5" fill="#fff" stroke="#231f20" stroke-width="2.4"/></g>
<ellipse cx="241" cy="536.5" rx="70" ry="37" transform="rotate(-15.4 241 536.5)" fill="none" stroke="#231f20" stroke-width="2.6"/>
<path d="M282,346 C296,338 318,328 336,328 C352,328 352,342 338,346 C320,351 300,350 282,346 C268,342 250,338 232,345 C216,351 221,364 240,364 C256,364 266,356 282,346" fill="none" stroke="#231f20" stroke-width="9.6" stroke-linecap="round" stroke-linejoin="round"/>
<path d="M282,346 C296,338 318,328 336,328 C352,328 352,342 338,346 C320,351 300,350 282,346 C268,342 250,338 232,345 C216,351 221,364 240,364 C256,364 266,356 282,346" fill="none" stroke="#fff" stroke-width="6" stroke-linecap="round" stroke-linejoin="round"/>
<g transform="translate(0,8)"></g>
<path d="M282,346 C296,338 318,328 336,328 C352,328 352,342 338,346 C320,351 300,350 282,346 C268,342 250,338 232,345 C216,351 221,364 240,364 C256,364 266,356 282,346" fill="none" stroke="#231f20" stroke-width="9.6" stroke-linecap="round" stroke-linejoin="round"/>
<path d="M282,346 C296,338 318,328 336,328 C352,328 352,342 338,346 C320,351 300,350 282,346 C268,342 250,338 232,345 C216,351 221,364 240,364 C256,364 266,356 282,346" fill="none" stroke="#fff" stroke-width="6" stroke-linecap="round" stroke-linejoin="round"/>
<g transform="translate(0,4)"></g>
<g transform="translate(0,8)">
<path d="M282,346 C296,338 318,328 336,328 C352,328 352,342 338,346 C320,351 300,350 282,346 C268,342 250,338 232,345 C216,351 221,364 240,364 C256,364 266,356 282,346" fill="none" stroke="#231f20" stroke-width="9.6" stroke-linecap="round" stroke-linejoin="round"/>
<path d="M282,346 C296,338 318,328 336,328 C352,328 352,342 338,346 C320,351 300,350 282,346 C268,342 250,338 232,345 C216,351 221,364 240,364 C256,364 266,356 282,346" fill="none" stroke="#fff" stroke-width="6" stroke-linecap="round" stroke-linejoin="round"/>
</g>
<g transform="translate(0,4)">
<path d="M282,346 C296,338 318,328 336,328 C352,328 352,342 338,346 C320,351 300,350 282,346 C268,342 250,338 232,345 C216,351 221,364 240,364 C256,364 266,356 282,346" fill="none" stroke="#231f20" stroke-width="9.6" stroke-linecap="round" stroke-linejoin="round"/>
<path d="M282,346 C296,338 318,328 336,328 C352,328 352,342 338,346 C320,351 300,350 282,346 C268,342 250,338 232,345 C216,351 221,364 240,364 C256,364 266,356 282,346" fill="none" stroke="#fff" stroke-width="6" stroke-linecap="round" stroke-linejoin="round"/>
</g>
<path d="M282,346 C296,338 318,328 336,328 C352,328 352,342 338,346 C320,351 300,350 282,346 C268,342 250,338 232,345 C216,351 221,364 240,364 C256,364 266,356 282,346" fill="none" stroke="#231f20" stroke-width="10" stroke-linecap="round" stroke-linejoin="round"/>
<path d="M282,346 C296,338 318,328 336,328 C352,328 352,342 338,346 C320,351 300,350 282,346 C268,342 250,338 232,345 C216,351 221,364 240,364 C256,364 266,356 282,346" fill="none" stroke="#fff" stroke-width="6" stroke-linecap="round" stroke-linejoin="round"/>
<path d="M270,352 C258,368 248,392 230,400" fill="none" stroke="#231f20" stroke-width="11" stroke-linecap="round" stroke-linejoin="round"/>
<path d="M270,352 C258,368 248,392 230,400" fill="none" stroke="#fff" stroke-width="7" stroke-linecap="round" stroke-linejoin="round"/>
<path d="M229,396 L212,403 L216,414 L233,406 Z" fill="#fff" stroke="#231f20" stroke-width="2"/>
<path d="M215,402 l4,10 M218,401 l4,10 M221,400 l4,10 M224,399 l4,10 M227,398 l4,9" stroke="#231f20" stroke-width="1.3"/>
<path d="M212,402 L178,413 Q170,417 172,423 L176,429 Q180,432 186,428 L216,414 Z" fill="#fff" stroke="#231f20" stroke-width="2.2"/>
<path d="M178,418 L190,412 M181,425 L193,419" stroke="#231f20" stroke-width="1.3"/>
<path d="M200,404 L206,412" stroke="#555" stroke-width="3"/>
<path d="M279,321 L286,320 L289,360 L282,360 Z M277,327 L281,334" fill="#fff" stroke="#231f20" stroke-width="1.8"/>
</svg>
<div style="position:absolute;left:48px;top:2266.5px;width:1560px;height:1px;background:#ffffff;border-radius:0px;"></div>
<div style="position:absolute;left:48px;top:2264px;width:1560px;height:2.5px;background:repeating-linear-gradient(90deg,#2a2a2a 0 3px,#7a5a7a 3px 5px,#5aa 5px 6px,#444 6px 8px)"></div>
<div class="t" style="left:149.53px;top:184.03px;font-size:36px;line-height:36px;font-weight:bold;color:#fff;">1.</div>
<div class="t" style="left:199.39px;top:184.03px;font-size:36px;line-height:36px;font-weight:bold;color:#fff;">Déballage</div>
<div class="t" style="left:149.75px;top:693.63px;font-size:36px;line-height:36px;font-weight:bold;color:#fff;">2.</div>
<div class="t" style="left:199.49px;top:693.63px;font-size:36px;line-height:36px;font-weight:bold;color:#fff;">Retrait de la bande et mise</div>
<div class="t" style="left:188.23px;top:731.43px;font-size:36px;line-height:36px;font-weight:bold;color:#fff;">sous tension</div>
<div style="position:absolute;left:151px;top:440.4px;width:8px;height:7.5px;border:1px solid #333;"></div>
<div class="t" style="left:173.83px;top:432.54px;font-size:21.1px;line-height:21.1px;">Cordon</div>
<div class="t" style="left:167.71px;top:457.24px;font-size:21.1px;line-height:21.1px;">d'alimentation</div>
<div style="position:absolute;left:451.7px;top:440.4px;width:8px;height:7.5px;border:1px solid #333;"></div>
<div class="t" style="left:474.63px;top:432.54px;font-size:21.1px;line-height:21.1px;">Cartouche FINE</div>
<div style="position:absolute;left:451.7px;top:528.5px;width:8px;height:7.5px;border:1px solid #333;"></div>
<div class="t" style="left:474.64px;top:520.54px;font-size:21.1px;line-height:21.1px;">Sécurité et informations</div>
<div class="t" style="left:467.79px;top:543.94px;font-size:21.1px;line-height:21.1px;">importantes</div>
<div style="position:absolute;left:451.7px;top:591.3px;width:8px;height:7.5px;border:1px solid #333;"></div>
<div class="t" style="left:473.87px;top:583.74px;font-size:21.1px;line-height:21.1px;">Démarrage (ce manuel)</div>
<div style="position:absolute;left:699.7px;top:592px;width:8px;height:7.5px;border:1px solid #333;"></div>
<div class="t" style="left:721.93px;top:583.74px;font-size:21.1px;line-height:21.1px;">CD-ROM</div>
<div class="t" style="left:167.31px;top:607.54px;font-size:21.1px;line-height:21.1px;">d'installation pour</div>
<div class="t" style="left:168.41px;top:631.54px;font-size:21.1px;line-height:21.1px;">Windows PC</div>
<div class="t" style="left:132.89px;top:820.87px;font-size:50px;line-height:50px;color:#4d4d4f;">1</div>
<div class="t" style="left:133.79px;top:1647.78px;font-size:50px;line-height:50px;color:#4d4d4f;">2</div>
<div class="t" style="left:134.40px;top:1729.58px;font-size:50px;line-height:50px;color:#4d4d4f;">3</div>
<div class="t" style="left:847.15px;top:164.28px;font-size:50px;line-height:50px;color:#4d4d4f;">4</div>
<div class="t" style="left:848.80px;top:444.18px;font-size:50px;line-height:50px;color:#4d4d4f;">5</div>
<div class="t" style="left:847.36px;top:723.37px;font-size:50px;line-height:50px;color:#4d4d4f;">6</div>
<div class="t" style="left:847.34px;top:1296.47px;font-size:50px;line-height:50px;color:#4d4d4f;">7</div>
<div class="t" style="left:193.64px;top:826.74px;font-size:27px;line-height:27px;">Mettez l'imprimante en position verticale sur</div>
<div class="t" style="left:194.03px;top:858.94px;font-size:27px;line-height:27px;">lapartie arrière et retirez la bande orange collée</div>
<div class="t" style="left:195.10px;top:894.94px;font-size:27px;line-height:27px;">sur le dessous. Remettez l'imprimante en place.</div>
<div class="t" style="left:193.69px;top:1653.74px;font-size:27px;line-height:27px;">Retirez les matériaux d'emballage (tels que la</div>
<div class="t" style="left:194.16px;top:1686.54px;font-size:27px;line-height:27px;">bande orange) de l'imprimante.</div>
<div class="t" style="left:194.62px;top:1734.34px;font-size:27px;line-height:27px;">Ouvrez le capot.</div>
<div class="t" style="left:906.99px;top:169.94px;font-size:27px;line-height:27px;">Retirez la bande orange et le matériau protecteur</div>
<div class="t" style="left:908.05px;top:205.94px;font-size:27px;line-height:27px;">et jetez-les.</div>
<div class="t" style="left:907.19px;top:452.94px;font-size:27px;line-height:27px;">Refermez le capot.</div>
<div class="t" style="left:907.59px;top:729.94px;font-size:27px;line-height:27px;">Branchez le cordon d'alimentation.</div>
<div class="t" style="left:908.45px;top:1302.74px;font-size:27px;line-height:27px;">Appuyez sur le bouton <b>MARCHE/Arrêt (ON/Stop)</b>.</div>
<div class="t" style="left:907.79px;top:1342.94px;font-size:27px;line-height:27px;">Le voyant <b>MARCHE (ON)</b> s'allume.</div>
<div class="t" style="left:919.80px;top:1210.99px;font-size:25.65px;line-height:25.65px;">Ne branchez aucun câble pour le moment,</div>
<div class="t" style="left:920.81px;top:1238.09px;font-size:25.65px;line-height:25.65px;">à l'exception du cordon d'alimentation.</div>
<div class="t" style="left:941.66px;top:1713.79px;font-size:25.65px;line-height:25.65px;transform:scaleX(0.896);transform-origin:0 0;">Si le voyant <b>Alarme (Alarm)</b> (A) clignote 9 fois,</div>
<div class="t" style="left:941.71px;top:1740.39px;font-size:25.65px;line-height:25.65px;transform:scaleX(0.907);transform-origin:0 0;">appuyez sur le bouton <b>MARCHE/Arrêt (ON/Stop)</b> pour</div>
<div class="t" style="left:941.17px;top:1770.29px;font-size:25.65px;line-height:25.65px;transform:scaleX(0.896);transform-origin:0 0;">mettre l'imprimante hors tension et recommencez la</div>
<div class="t" style="left:941.22px;top:1797.29px;font-size:25.65px;line-height:25.65px;transform:scaleX(0.896);transform-origin:0 0;">procédure à partir de l'étape 3 du chapitre 2 « Retrait de</div>
<div class="t" style="left:941.15px;top:1824.69px;font-size:25.65px;line-height:25.65px;transform:scaleX(0.896);transform-origin:0 0;">la bande et mise sous tension ».</div>
<div class="t" style="left:941.54px;top:1849.09px;font-size:25.65px;line-height:25.65px;">Si le voyant <b>Alarme (Alarm)</b> (A) clignote 4 fois,</div>
<div class="t" style="left:941.05px;top:1877.89px;font-size:25.65px;line-height:25.65px;">passez à l'étape suivante.</div>
<div class="t" style="left:887.46px;top:1619.29px;font-size:20.8px;line-height:20.8px;">Allumé</div>
<div class="t" style="left:953.21px;top:1932.69px;font-size:20.8px;line-height:20.8px;">(A)</div>
<div class="t" style="left:1046.54px;top:2082.69px;font-size:20.8px;line-height:20.8px;">Clignotant</div>
<div class="t" style="left:1551.5px;top:674.5px;font-size:24px;line-height:24px;font-weight:bold;transform:translate(-50%,-50%) rotate(-90deg);">FRANÇAIS</div>
</body></html>
